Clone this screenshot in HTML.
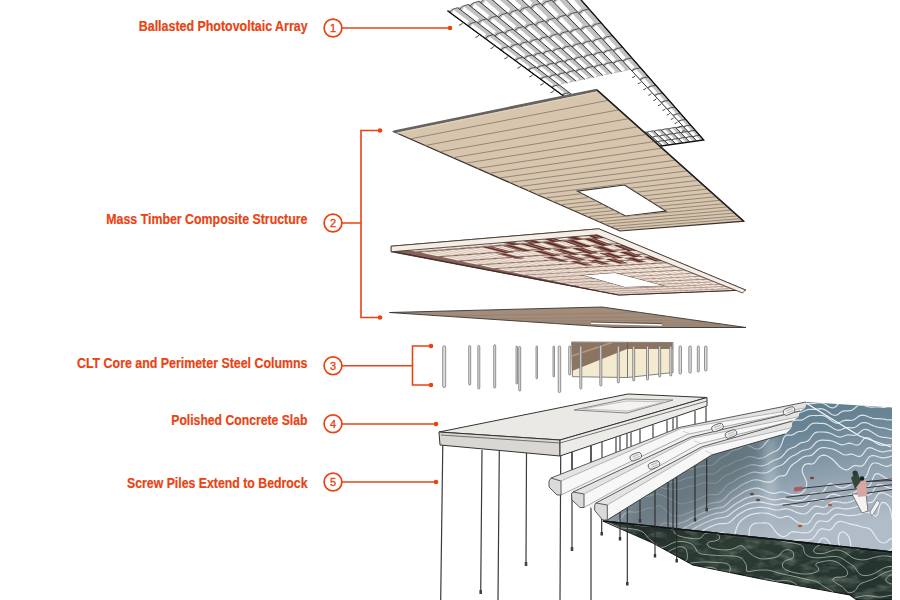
<!DOCTYPE html>
<html><head><meta charset="utf-8"><style>
html,body{margin:0;padding:0;background:#fff;width:900px;height:600px;overflow:hidden}
svg{display:block}
.lb{font-family:"Liberation Sans",sans-serif;font-weight:bold;font-size:14px;fill:#ea4312;stroke:#ea4312;stroke-width:0.2px}
.nb{font-family:"Liberation Sans",sans-serif;font-size:11px;fill:#ea4312;stroke:#ea4312;stroke-width:0.35px}
</style></head><body>
<svg width="900" height="600" viewBox="0 0 900 600">
<polygon points="447.5,10.8 560.3,-23.8 703.8,140.0 636.4,149.5" fill="#c2c2c2"/>
<polygon points="559.0,84.8 630.9,69.8 683.0,126.2 625.2,135.2" fill="#fff"/>
<g fill="#fff"><polygon points="451.9,13.5 453.8,9.9 468.9,21.2 466.9,24.5"/><polygon points="470.5,27.2 472.4,23.9 486.1,34.1 484.1,37.2"/><polygon points="487.3,39.6 489.4,36.6 501.9,45.9 499.8,48.7"/><polygon points="502.8,50.9 504.9,48.2 516.4,56.8 514.2,59.3"/><polygon points="517.0,61.4 519.2,58.8 529.7,66.7 527.5,69.1"/><polygon points="530.0,71.0 532.3,68.6 542.0,75.9 539.7,78.1"/><polygon points="542.1,79.8 544.3,77.7 553.4,84.4 551.1,86.5"/><polygon points="553.3,88.1 555.5,86.1 563.9,92.3 561.6,94.2"/><polygon points="563.7,95.7 566.0,93.8 573.8,99.7 571.5,101.5"/><polygon points="573.3,102.8 575.6,101.1 582.9,106.5 580.6,108.2"/><polygon points="582.4,109.5 584.7,107.9 591.5,113.0 589.2,114.5"/><polygon points="590.9,115.7 593.2,114.2 599.6,119.0 597.3,120.4"/><polygon points="598.8,121.6 601.1,120.1 607.1,124.6 604.8,126.0"/><polygon points="606.3,127.1 608.6,125.7 614.2,129.9 612.0,131.2"/><polygon points="613.3,132.3 615.6,131.0 620.9,135.0 618.7,136.2"/><polygon points="620.0,137.1 622.2,135.9 627.2,139.7 625.0,140.9"/><polygon points="626.2,141.8 628.5,140.6 633.2,144.2 631.0,145.3"/><polygon points="632.2,146.1 634.4,145.0 638.9,148.4 636.7,149.5"/><polygon points="462.1,10.5 464.1,6.8 478.9,18.3 476.8,21.7"/><polygon points="480.4,24.4 482.5,21.0 495.9,31.5 493.7,34.6"/><polygon points="496.9,37.0 499.1,34.0 511.4,43.5 509.2,46.4"/><polygon points="512.1,48.6 514.4,45.8 525.6,54.5 523.3,57.1"/><polygon points="526.0,59.2 528.3,56.6 538.7,64.7 536.3,67.1"/><polygon points="538.8,69.0 541.2,66.6 550.7,74.0 548.3,76.2"/><polygon points="550.6,78.0 553.0,75.8 561.8,82.6 559.5,84.7"/><polygon points="626.8,136.1 629.1,134.9 634.0,138.7 631.7,139.8"/><polygon points="632.9,140.8 635.2,139.6 639.8,143.2 637.6,144.3"/><polygon points="638.7,145.2 641.0,144.1 645.4,147.5 643.1,148.6"/><polygon points="472.5,7.3 474.7,3.5 489.2,15.3 487.0,18.8"/><polygon points="490.4,21.5 492.7,18.1 505.9,28.7 503.6,31.9"/><polygon points="506.7,34.4 509.1,31.3 521.1,41.0 518.7,43.9"/><polygon points="521.6,46.2 524.0,43.3 535.0,52.2 532.6,54.9"/><polygon points="535.2,57.0 537.6,54.4 547.8,62.5 545.3,65.0"/><polygon points="547.8,66.9 550.2,64.5 559.6,72.0 557.1,74.3"/><polygon points="559.3,76.1 561.8,73.9 570.4,80.8 568.0,82.9"/><polygon points="633.7,135.0 636.1,133.8 640.8,137.6 638.5,138.8"/><polygon points="639.7,139.8 642.0,138.6 646.5,142.2 644.2,143.4"/><polygon points="645.3,144.2 647.6,143.1 651.9,146.6 649.6,147.6"/><polygon points="483.1,4.1 485.4,0.2 499.7,12.2 497.3,15.8"/><polygon points="500.7,18.6 503.1,15.1 516.1,26.0 513.6,29.2"/><polygon points="516.7,31.7 519.1,28.6 530.9,38.5 528.4,41.4"/><polygon points="531.2,43.8 533.8,40.8 544.6,49.9 542.0,52.6"/><polygon points="544.6,54.7 547.1,52.1 557.0,60.4 554.5,62.9"/><polygon points="556.8,64.9 559.4,62.4 568.5,70.1 566.0,72.4"/><polygon points="568.2,74.2 570.7,71.9 579.2,79.0 576.6,81.1"/><polygon points="640.7,134.0 643.1,132.7 647.8,136.6 645.4,137.8"/><polygon points="646.5,138.7 648.9,137.6 653.3,141.2 650.9,142.4"/><polygon points="652.0,143.3 654.3,142.1 658.5,145.6 656.2,146.7"/><polygon points="494.0,0.8 496.4,-3.1 510.4,9.1 507.9,12.8"/><polygon points="511.2,15.6 513.7,12.0 526.4,23.1 523.8,26.4"/><polygon points="526.8,29.0 529.4,25.8 541.0,35.9 538.3,38.9"/><polygon points="541.1,41.3 543.7,38.3 554.3,47.5 551.6,50.3"/><polygon points="554.1,52.5 556.8,49.7 566.5,58.2 563.8,60.8"/><polygon points="566.1,62.7 568.8,60.2 577.7,68.0 575.0,70.4"/><polygon points="577.1,72.2 579.8,69.9 588.0,77.1 585.4,79.3"/><polygon points="647.8,132.9 650.2,131.6 654.8,135.6 652.3,136.8"/><polygon points="653.4,137.7 655.9,136.5 660.1,140.2 657.7,141.4"/><polygon points="658.7,142.3 661.2,141.2 665.2,144.7 662.8,145.8"/><polygon points="505.0,-2.5 507.7,-6.6 521.3,6.0 518.7,9.7"/><polygon points="521.9,12.6 524.6,8.9 537.0,20.3 534.2,23.6"/><polygon points="537.2,26.3 539.9,23.0 551.2,33.3 548.4,36.3"/><polygon points="551.1,38.7 553.9,35.7 564.2,45.1 561.4,47.9"/><polygon points="563.8,50.1 566.6,47.4 576.0,56.0 573.2,58.6"/><polygon points="575.5,60.6 578.3,58.1 587.0,66.0 584.2,68.4"/><polygon points="586.3,70.3 589.1,67.9 597.1,75.2 594.3,77.4"/><polygon points="654.9,131.8 657.5,130.5 661.8,134.5 659.3,135.7"/><polygon points="660.4,136.7 662.9,135.5 667.0,139.2 664.5,140.4"/><polygon points="665.5,141.3 668.0,140.2 671.9,143.7 669.5,144.8"/><polygon points="516.3,-6.0 519.1,-10.1 532.5,2.7 529.6,6.5"/><polygon points="532.8,9.5 535.7,5.8 547.7,17.3 544.8,20.8"/><polygon points="547.7,23.5 550.6,20.1 561.6,30.6 558.7,33.7"/><polygon points="561.3,36.2 564.2,33.1 574.2,42.7 571.3,45.5"/><polygon points="573.7,47.8 576.6,45.0 585.8,53.7 582.9,56.4"/><polygon points="585.1,58.4 588.0,55.8 596.4,63.9 593.5,66.3"/><polygon points="595.5,68.2 598.4,65.9 606.2,73.3 603.3,75.5"/><polygon points="662.1,130.7 664.8,129.4 669.0,133.4 666.4,134.7"/><polygon points="667.4,135.6 670.0,134.4 674.0,138.2 671.5,139.4"/><polygon points="672.4,140.3 675.0,139.1 678.8,142.8 676.3,143.9"/><polygon points="527.9,-9.5 530.9,-13.7 543.9,-0.6 540.9,3.3"/><polygon points="543.9,6.3 547.0,2.5 558.7,14.3 555.7,17.8"/><polygon points="558.5,20.6 561.5,17.1 572.2,27.9 569.1,31.0"/><polygon points="571.7,33.5 574.7,30.4 584.5,40.2 581.4,43.1"/><polygon points="583.7,45.4 586.8,42.5 595.7,51.4 592.6,54.1"/><polygon points="594.8,56.2 597.8,53.6 606.0,61.8 603.0,64.3"/><polygon points="604.9,66.2 608.0,63.8 615.5,71.3 612.5,73.6"/><polygon points="669.5,129.5 672.2,128.2 676.2,132.3 673.6,133.6"/><polygon points="674.6,134.6 677.2,133.3 681.1,137.2 678.5,138.4"/><polygon points="679.4,139.3 682.0,138.1 685.7,141.8 683.1,142.9"/><polygon points="539.7,-13.0 542.9,-17.3 555.5,-4.0 552.3,-0.0"/><polygon points="555.3,3.1 558.5,-0.8 569.9,11.3 566.7,14.9"/><polygon points="569.4,17.6 572.7,14.1 583.0,25.1 579.8,28.3"/><polygon points="582.3,30.9 585.5,27.7 594.9,37.6 591.7,40.6"/><polygon points="594.0,42.9 597.2,40.0 605.8,49.1 602.6,51.8"/><polygon points="604.7,54.0 607.9,51.3 615.8,59.6 612.6,62.2"/><polygon points="614.5,64.1 617.7,61.6 625.0,69.3 621.8,71.7"/><polygon points="676.9,128.4 679.6,127.1 683.6,131.2 680.9,132.5"/><polygon points="681.8,133.5 684.5,132.2 688.3,136.1 685.6,137.3"/><polygon points="686.5,138.3 689.2,137.1 692.7,140.8 690.0,141.9"/><polygon points="551.7,-16.7 555.1,-21.1 567.4,-7.4 564.0,-3.4"/><polygon points="566.9,-0.2 570.3,-4.2 581.4,8.2 578.0,11.8"/><polygon points="580.6,14.7 584.0,11.1 594.0,22.2 590.7,25.5"/><polygon points="593.0,28.1 596.4,24.9 605.5,35.0 602.2,38.1"/><polygon points="604.4,40.4 607.7,37.5 616.1,46.7 612.7,49.5"/><polygon points="614.7,51.7 618.1,48.9 625.7,57.5 622.4,60.0"/><polygon points="624.3,62.0 627.5,59.5 634.6,67.3 631.3,69.7"/><polygon points="633.0,71.5 636.3,69.2 642.8,76.4 639.6,78.6"/><polygon points="641.1,80.3 644.3,78.2 650.4,84.9 647.2,86.9"/><polygon points="648.7,88.5 651.8,86.5 657.4,92.7 654.3,94.6"/><polygon points="655.7,96.1 658.8,94.2 664.0,100.0 660.9,101.8"/><polygon points="662.2,103.2 665.2,101.4 670.1,106.8 667.1,108.5"/><polygon points="668.3,109.8 671.3,108.1 675.8,113.2 672.9,114.8"/><polygon points="674.0,116.0 676.9,114.4 681.2,119.2 678.3,120.6"/><polygon points="679.4,121.8 682.2,120.3 686.3,124.8 683.4,126.2"/><polygon points="684.4,127.2 687.2,125.9 691.0,130.1 688.2,131.4"/><polygon points="689.1,132.4 691.9,131.1 695.5,135.1 692.7,136.3"/><polygon points="693.6,137.3 696.4,136.0 699.7,139.8 697.0,140.9"/></g>
<path d="M449.5 12.3L452.1 9.4L457.7 7.7M468.2 26.0L470.9 23.4L476.3 21.8M485.3 38.5L487.9 36.2L493.3 34.7M500.8 50.0L503.5 47.8L508.7 46.5M515.1 60.5L517.8 58.5L522.9 57.3M528.3 70.1L531.0 68.3L535.9 67.2M540.5 79.1L543.2 77.4L547.9 76.3M551.8 87.4L554.4 85.8L559.0 84.8M562.2 95.0L564.9 93.6L569.4 92.7M572.0 102.2L574.6 100.8L579.0 100.0M581.1 108.9L583.7 107.6L588.0 106.8M589.7 115.2L592.2 114.0L596.4 113.2M597.7 121.1L600.2 119.9L604.3 119.2M605.2 126.6L607.7 125.5L611.7 124.9M612.3 131.8L614.8 130.8L618.6 130.2M619.0 136.7L621.4 135.8L625.2 135.2M625.3 141.4L627.7 140.5L631.4 139.9M631.3 145.7L633.6 144.9L637.3 144.4M459.7 9.1L462.4 6.2L468.2 4.5M478.1 23.2L480.9 20.5L486.5 18.9M494.9 35.9L497.7 33.5L503.1 32.1M510.2 47.6L513.0 45.4L518.2 44.0M524.2 58.3L527.0 56.3L532.1 55.0M537.1 68.1L539.9 66.2L544.9 65.1M549.1 77.2L551.8 75.5L556.6 74.4M625.8 135.7L628.3 134.7L632.1 134.1M632.0 140.4L634.4 139.4L638.2 138.9M637.8 144.8L640.2 143.9L643.9 143.4M470.1 6.0L473.0 3.0L478.9 1.2M488.2 20.3L491.1 17.6L496.8 15.9M504.7 33.3L507.6 30.8L513.1 29.3M519.7 45.2L522.6 42.9L527.9 41.6M533.4 56.1L536.3 54.0L541.5 52.7M546.1 66.1L549.0 64.2L554.0 63.0M557.8 75.3L560.6 73.5L565.5 72.5M632.7 134.6L635.3 133.6L639.1 133.0M638.7 139.3L641.2 138.4L645.0 137.9M644.4 143.8L646.9 143.0L650.6 142.4M480.7 2.7L483.7 -0.3L489.8 -2.2M498.5 17.3L501.5 14.6L507.4 12.9M514.6 30.6L517.7 28.1L523.3 26.6M529.4 42.7L532.4 40.4L537.8 39.0M542.8 53.8L545.8 51.7L551.1 50.4M555.2 64.0L558.2 62.0L563.3 60.9M566.6 73.4L569.6 71.6L574.5 70.5M639.7 133.5L642.3 132.5L646.2 131.9M645.6 138.3L648.1 137.4L651.9 136.8M651.1 142.9L653.6 142.0L657.3 141.4M491.6 -0.6L494.7 -3.7L500.9 -5.6M509.0 14.3L512.2 11.5L518.1 9.8M524.8 27.9L528.0 25.3L533.7 23.8M539.2 40.2L542.3 37.9L547.9 36.5M552.4 51.5L555.5 49.4L560.9 48.1M564.5 61.9L567.5 59.9L572.8 58.7M575.6 71.4L578.6 69.6L583.7 68.5M646.8 132.4L649.5 131.4L653.4 130.8M652.5 137.3L655.1 136.3L659.0 135.8M657.9 141.9L660.4 141.0L664.2 140.5M502.7 -4.0L506.0 -7.1L512.3 -9.1M519.7 11.3L523.0 8.4L529.1 6.7M535.2 25.1L538.5 22.5L544.3 20.9M549.2 37.7L552.5 35.3L558.2 33.8M562.1 49.2L565.3 47.0L570.8 45.7M573.9 59.7L577.1 57.7L582.4 56.5M584.8 69.4L587.9 67.6L593.0 66.4M654.0 131.3L656.7 130.3L660.7 129.7M659.5 136.2L662.1 135.3L666.0 134.7M664.7 140.9L667.3 140.0L671.1 139.4M514.0 -7.4L517.4 -10.7L523.9 -12.6M530.7 8.2L534.1 5.2L540.3 3.5M545.8 22.3L549.2 19.6L555.1 18.0M559.5 35.1L562.8 32.7L568.6 31.2M572.0 46.8L575.3 44.6L580.9 43.2M583.5 57.5L586.8 55.5L592.1 54.2M594.0 67.4L597.3 65.5L602.5 64.4M661.2 130.2L664.0 129.2L668.0 128.6M666.6 135.2L669.3 134.2L673.2 133.6M671.6 139.9L674.3 139.0L678.1 138.4M525.6 -10.9L529.2 -14.3L535.7 -16.3M541.8 5.0L545.4 2.0L551.7 0.2M556.5 19.4L560.1 16.6L566.2 15.0M569.9 32.4L573.4 30.0L579.3 28.5M582.1 44.4L585.5 42.1L591.2 40.7M593.2 55.3L596.6 53.2L602.1 51.9M603.5 65.3L606.8 63.4L612.1 62.3M668.6 129.1L671.4 128.0L675.5 127.4M673.7 134.1L676.5 133.1L680.5 132.5M678.6 138.9L681.3 138.0L685.2 137.4M537.4 -14.5L541.2 -17.9L547.9 -20.0M553.2 1.7L557.0 -1.3L563.4 -3.2M567.5 16.4L571.2 13.6L577.4 12.0M580.5 29.7L584.1 27.2L590.1 25.7M592.3 41.9L595.9 39.6L601.7 38.2M603.1 53.0L606.6 50.9L612.2 49.6M613.1 63.2L616.5 61.3L621.9 60.1M676.0 127.9L678.9 126.9L683.0 126.2M681.0 133.0L683.8 132.0L687.8 131.4M685.7 137.9L688.4 136.9L692.4 136.4M549.5 -18.2L553.4 -21.7L560.3 -23.8M564.9 -1.6L568.8 -4.7L575.3 -6.6M578.7 13.4L582.6 10.6L588.9 8.9M591.3 27.0L595.1 24.4L601.2 22.9M602.8 39.4L606.4 37.0L612.3 35.6M613.2 50.7L616.8 48.6L622.5 47.3M622.8 61.1L626.4 59.1L631.9 57.9M631.7 70.7L635.2 68.9L640.5 67.8M639.9 79.6L643.3 77.9L648.4 76.8M647.5 87.8L650.8 86.2L655.8 85.3M654.6 95.4L657.8 94.0L662.6 93.1M661.1 102.5L664.3 101.2L669.0 100.3M667.3 109.2L670.4 107.9L675.0 107.1M673.0 115.4L676.1 114.2L680.5 113.5M678.4 121.3L681.4 120.1L685.8 119.5M683.5 126.8L686.5 125.7L690.7 125.1M688.3 131.9L691.2 130.9L695.3 130.3M692.8 136.8L695.6 135.9L699.6 135.3" stroke="#3a3a3a" stroke-width="0.8" fill="none"/>
<path d="M447.5 10.8L636.4 149.5M457.7 7.7L642.8 148.6M468.2 4.5L567.5 83.0M632.1 134.1L649.3 147.7M478.9 1.2L576.2 81.2M639.1 133.0L655.8 146.8M489.8 -2.2L584.9 79.4M646.2 131.9L662.5 145.8M500.9 -5.6L593.8 77.5M653.4 130.8L669.1 144.9M512.3 -9.1L602.9 75.6M660.7 129.7L675.9 143.9M523.9 -12.6L612.0 73.7M668.0 128.6L682.8 143.0M535.7 -16.3L621.4 71.8M675.5 127.4L689.7 142.0M547.9 -20.0L696.7 141.0M560.3 -23.8L703.8 140.0" stroke="#2a2a2a" stroke-width="0.9" fill="none"/>
<path d="M462.5 22.9Q461.5 25.1 459.0 25.3M478.9 35.0Q477.9 37.2 475.4 37.4M494.0 46.1Q493.0 48.3 490.5 48.5M507.9 56.3Q506.9 58.5 504.4 58.7M520.8 65.8Q519.8 68.0 517.3 68.2M532.7 74.5Q531.7 76.7 529.2 76.9M543.8 82.6Q542.8 84.8 540.3 85.0M554.1 90.2Q553.1 92.4 550.6 92.6M563.7 97.3Q562.7 99.5 560.2 99.7M572.8 103.9Q571.8 106.1 569.3 106.3M581.2 110.2Q580.2 112.4 577.7 112.6M589.2 116.0Q588.2 118.2 585.7 118.4M635.1 75.7Q634.1 77.4 632.1 77.6M640.8 81.9Q639.8 83.6 637.8 83.8M646.3 87.8Q645.3 89.5 643.3 89.7M651.4 93.4Q650.4 95.1 648.4 95.3M656.3 98.7Q655.3 100.4 653.3 100.6M661.0 103.8Q660.0 105.5 658.0 105.7M665.5 108.6Q664.5 110.3 662.5 110.5M669.7 113.2Q668.7 114.9 666.7 115.1M673.8 117.5Q672.8 119.2 670.8 119.4M677.6 121.7Q676.6 123.4 674.6 123.6M681.3 125.7Q680.3 127.4 678.3 127.6M684.9 129.6Q683.9 131.3 681.9 131.5" fill="none" stroke="#333" stroke-width="0.9"/>
<path d="M447.5 10.8L636.4 149.5L703.75 140L489.0 -105.2" stroke="#111" stroke-width="1.3" fill="none"/>
<path d="M393.8,131.8 597.0,90.0 743.8,221.2 620.0,231.0Z M577.5,191.2 624.5,185.0 666.0,211.0 625.5,216.0Z" fill="#d8c5ad" fill-rule="evenodd" stroke="#3a3530" stroke-width="1.2"/>
<g><clipPath id="rc"><path d="M393.8,131.8 597.0,90.0 743.8,221.2 620.0,231.0Z M577.5,191.2 624.5,185.0 666.0,211.0 625.5,216.0Z" clip-rule="evenodd"/></clipPath><path d="M410.0 138.9L608.5 100.3M425.2 145.5L619.1 109.8M439.4 151.8L629.0 118.6M452.8 157.7L638.1 126.8M465.5 163.2L646.6 134.4M477.4 168.4L654.6 141.5M488.6 173.4L662.0 148.1M499.2 178.0L669.0 154.4M509.3 182.4L675.5 160.2M518.9 186.6L681.6 165.7M528.0 190.6L687.4 170.9M536.6 194.4L692.9 175.8M544.9 198.0L698.1 180.4M552.7 201.5L703.0 184.8M560.2 204.8L707.7 189.0M567.4 207.9L712.1 192.9M574.2 210.9L716.3 196.7M580.8 213.8L720.3 200.3M587.1 216.6L724.1 203.7M593.1 219.2L727.8 206.9M598.9 221.8L731.2 210.1M604.5 224.2L734.6 213.0M609.9 226.6L737.8 215.9M615.0 228.8L740.8 218.6" stroke="#958676" stroke-width="1.0" clip-path="url(#rc)"/></g>
<path d="M393.75 131.75L597 90" stroke="#666460" stroke-width="2.8"/>
<path d="M396.75 133.35L597 92" stroke="#e6d8c6" stroke-width="0.8"/>
<path d="M597 90L743.75 221.25" stroke="#222" stroke-width="1.6"/>
<path d="M391.2,246.2 598.8,228.8 745.5,290.0 618.8,295.0 391.2,251.8Z M581.0,275.0 615.0,272.5 666.0,286.0 625.0,287.5Z" fill="#85625a" fill-rule="evenodd" stroke="#3a2a25" stroke-width="0.8"/>
<clipPath id="gc"><path d="M391.2,246.2 598.8,228.8 745.5,290.0 618.8,295.0 391.2,251.8Z M581.0,275.0 615.0,272.5 666.0,286.0 625.0,287.5Z" clip-rule="evenodd"/></clipPath><g clip-path="url(#gc)"><g fill="#f4ebe0"><polygon points="396.3,247.3 602.2,230.2 615.5,235.7 415.6,251.5"/><polygon points="420.2,252.5 618.6,237.0 630.4,242.0 437.7,256.2"/><polygon points="441.9,257.1 633.2,243.1 643.9,247.6 458.0,260.5"/><polygon points="461.8,261.4 646.5,248.7 656.1,252.7 476.5,264.5"/><polygon points="480.0,265.3 658.4,253.7 667.3,257.3 493.6,268.2"/><polygon points="496.8,268.9 669.4,258.2 677.4,261.6 509.3,271.5"/><polygon points="512.3,272.2 679.4,262.4 686.8,265.5 523.9,274.7"/><polygon points="526.7,275.3 688.5,266.2 695.4,269.1 537.4,277.6"/><polygon points="540.0,278.1 697.0,269.8 703.3,272.4 550.1,280.3"/><polygon points="552.5,280.8 704.8,273.0 710.7,275.5 561.8,282.8"/><polygon points="564.1,283.3 712.1,276.0 717.5,278.3 572.8,285.2"/><polygon points="575.0,285.6 718.8,278.9 723.9,281.0 583.2,287.4"/><polygon points="585.2,287.8 725.1,281.5 729.8,283.4 592.9,289.5"/><polygon points="594.7,289.9 730.9,283.9 735.4,285.8 602.0,291.4"/><polygon points="603.8,291.8 736.4,286.2 740.6,288.0 610.6,293.3"/><polygon points="612.3,293.6 741.6,288.4 745.5,290.0 618.7,295.0"/></g><g fill="#62302a"><polygon points="495.7,253.7 504.8,253.1 525.1,258.3 516.3,258.9"/><polygon points="482.2,247.2 491.8,246.5 514.0,252.4 504.8,253.1"/><polygon points="501.5,245.7 511.3,245.0 532.7,251.0 523.3,251.7"/><polygon points="542.9,257.1 551.9,256.5 569.2,261.4 560.5,261.9"/><polygon points="487.3,238.2 497.6,237.3 521.3,244.2 511.3,245.0"/><polygon points="532.7,251.0 542.3,250.3 561.1,255.8 551.9,256.5"/><polygon points="569.2,261.4 578.1,260.8 593.4,265.3 584.9,265.8"/><polygon points="521.3,244.2 531.4,243.4 552.0,249.6 542.3,250.3"/><polygon points="561.1,255.8 570.4,255.2 587.0,260.2 578.1,260.8"/><polygon points="508.2,236.4 518.9,235.5 541.6,242.6 531.4,243.4"/><polygon points="552.0,249.6 561.8,248.9 579.8,254.6 570.4,255.2"/><polygon points="587.0,260.2 596.1,259.7 610.7,264.3 602.0,264.8"/><polygon points="541.6,242.6 552.0,241.8 571.7,248.2 561.8,248.9"/><polygon points="579.8,254.6 589.4,253.9 605.2,259.1 596.1,259.7"/><polygon points="529.8,234.6 540.8,233.6 562.6,241.0 552.0,241.8"/><polygon points="571.7,248.2 581.8,247.5 599.0,253.3 589.4,253.9"/><polygon points="605.2,259.1 614.5,258.5 628.5,263.2 619.5,263.7"/><polygon points="562.6,241.0 573.3,240.1 592.0,246.7 581.8,247.5"/><polygon points="599.0,253.3 608.8,252.6 623.9,257.9 614.5,258.5"/><polygon points="552.1,232.7 563.5,231.7 584.1,239.3 573.3,240.1"/><polygon points="592.0,246.7 602.4,246.0 618.7,251.9 608.8,252.6"/><polygon points="623.9,257.9 633.4,257.3 646.6,262.1 637.5,262.6"/><polygon points="584.1,239.3 595.1,238.4 612.9,245.2 602.4,246.0"/><polygon points="618.7,251.9 628.8,251.2 643.0,256.7 633.4,257.3"/><polygon points="575.0,230.8 586.8,229.8 606.3,237.5 595.1,238.4"/><polygon points="612.9,245.2 623.6,244.4 639.0,250.5 628.8,251.2"/><polygon points="643.0,256.7 652.8,256.0 665.2,261.0 655.8,261.5"/></g><path d="M398.2 245.7L623.3 294.8M405.1 245.1L627.8 294.6M412.2 244.5L632.4 294.5M419.3 243.9L637.0 294.3M426.6 243.3L641.6 294.1M433.8 242.7L646.2 293.9M441.2 242.0L650.9 293.7M448.7 241.4L655.6 293.5M456.2 240.8L660.3 293.4M463.8 240.1L665.1 293.2M471.6 239.5L669.9 293.0M479.4 238.8L674.7 292.8M487.3 238.2L679.6 292.6M495.2 237.5L684.5 292.4M503.3 236.8L689.4 292.2M511.5 236.1L694.3 292.0M519.7 235.4L699.3 291.8M528.1 234.7L704.3 291.6M536.6 234.0L709.3 291.4M545.1 233.3L714.4 291.2M553.8 232.5L719.5 291.0M562.6 231.8L724.6 290.8M571.5 231.1L729.8 290.6M580.4 230.3L735.0 290.4M589.5 229.5L740.2 290.2" stroke="#c4aa9c" stroke-width="0.6"/></g>
<path d="M391.25 251.25L618.75 295L745.5 290" fill="none" stroke="#4a2e28" stroke-width="1.2"/>
<path d="M391.2,246.2 598.8,228.8 745.5,290.0 742.5,293.0 596.8,234.8 391.2,251.8Z" fill="#f5eee6" stroke="#3a302a" stroke-width="0.8"/>
<path d="M389.5,312.5 602.0,307.0 746.0,327.5 615.0,327.5Z" fill="#a38c7a" stroke="#333" stroke-width="0.9"/>
<path d="M444.1 316.1L641.3 312.6M487.4 319.0L670.3 316.7M522.5 321.3L692.5 319.9M551.6 323.3L710.0 322.4M576.1 324.9L724.3 324.4M597.0 326.3L736.1 326.1" stroke="#857263" stroke-width="0.6" opacity="0.7"/>
<polygon points="571.7,342 673,342.5 673,372.5 627.5,377.5 572.5,376.7" fill="#f3ead0" stroke="#666" stroke-width="0.8"/>
<polygon points="571.7,342.3 672.5,342.8 672.5,349 627,349 572,371" fill="#8c7462"/>
<path d="M627.5 342.5V377.5" stroke="#555" stroke-width="0.8"/>
<path d="M572 356L612 342.5" stroke="#b49a80" stroke-width="1.4"/>
<rect x="442.7" y="345.8" width="3" height="41.7" rx="1.5" fill="#dcdcdc" stroke="#6a6a6a" stroke-width="0.7"/>
<rect x="468.7" y="345.5" width="2" height="39.5" rx="1.0" fill="#dcdcdc" stroke="#6a6a6a" stroke-width="0.7"/>
<rect x="477.8" y="345.5" width="2" height="43.5" rx="1.0" fill="#dcdcdc" stroke="#6a6a6a" stroke-width="0.7"/>
<rect x="493.7" y="344.7" width="2" height="43.3" rx="1.0" fill="#dcdcdc" stroke="#6a6a6a" stroke-width="0.7"/>
<rect x="516.0" y="346" width="1.5" height="38.0" rx="0.8" fill="#dcdcdc" stroke="#6a6a6a" stroke-width="0.7"/>
<rect x="518.7" y="346.5" width="2" height="44.5" rx="1.0" fill="#dcdcdc" stroke="#6a6a6a" stroke-width="0.7"/>
<rect x="536.0" y="346" width="1.5" height="32.8" rx="0.8" fill="#dcdcdc" stroke="#6a6a6a" stroke-width="0.7"/>
<rect x="553.0" y="346" width="1.5" height="31.0" rx="0.8" fill="#dcdcdc" stroke="#6a6a6a" stroke-width="0.7"/>
<rect x="558.2" y="346" width="2.5" height="46.5" rx="1.2" fill="#dcdcdc" stroke="#6a6a6a" stroke-width="0.7"/>
<rect x="568.7" y="346" width="2" height="29.0" rx="1.0" fill="#dcdcdc" stroke="#6a6a6a" stroke-width="0.7"/>
<rect x="579.8" y="346" width="2" height="43.0" rx="1.0" fill="#dcdcdc" stroke="#6a6a6a" stroke-width="0.7"/>
<rect x="599.8" y="345" width="2" height="41.0" rx="1.0" fill="#dcdcdc" stroke="#6a6a6a" stroke-width="0.7"/>
<rect x="617.3" y="346" width="2" height="37.0" rx="1.0" fill="#dcdcdc" stroke="#6a6a6a" stroke-width="0.7"/>
<rect x="632.7" y="346" width="2" height="35.0" rx="1.0" fill="#dcdcdc" stroke="#6a6a6a" stroke-width="0.7"/>
<rect x="646.5" y="346" width="2" height="34.0" rx="1.0" fill="#dcdcdc" stroke="#6a6a6a" stroke-width="0.7"/>
<rect x="658.7" y="346" width="2" height="31.0" rx="1.0" fill="#dcdcdc" stroke="#6a6a6a" stroke-width="0.7"/>
<rect x="669.8" y="346" width="2" height="30.0" rx="1.0" fill="#dcdcdc" stroke="#6a6a6a" stroke-width="0.7"/>
<rect x="679.0" y="346" width="2.5" height="28.0" rx="1.2" fill="#dcdcdc" stroke="#6a6a6a" stroke-width="0.7"/>
<rect x="688.8" y="346" width="2.5" height="27.0" rx="1.2" fill="#dcdcdc" stroke="#6a6a6a" stroke-width="0.7"/>
<rect x="697.3" y="346" width="2" height="26.0" rx="1.0" fill="#dcdcdc" stroke="#6a6a6a" stroke-width="0.7"/>
<rect x="704.5" y="346" width="2.5" height="25.0" rx="1.2" fill="#dcdcdc" stroke="#6a6a6a" stroke-width="0.7"/>
<path d="M591 323.3L662 325" stroke="#fff" stroke-width="1.6"/><path d="M591 322L662 323.6" stroke="#333" stroke-width="0.6"/>
<defs>
<linearGradient id="wg" x1="0" y1="0" x2="0.35" y2="1">
<stop offset="0" stop-color="#4d7283"/><stop offset="0.4" stop-color="#6b8696"/><stop offset="0.75" stop-color="#98a8b6"/><stop offset="1" stop-color="#b0bcc7"/></linearGradient>
<linearGradient id="dg" x1="0" y1="0" x2="1" y2="0.3">
<stop offset="0" stop-color="#1e2927"/><stop offset="0.5" stop-color="#2c3c34"/><stop offset="1" stop-color="#263430"/></linearGradient>
<linearGradient id="rg" x1="0" y1="0" x2="1" y2="0">
<stop offset="0" stop-color="#7d868c"/><stop offset="1" stop-color="#8d9aa3" stop-opacity="0"/></linearGradient>
</defs>
<polygon points="806.0,402.0 892.0,407.5 892.0,552.0 603.0,521.0 711.7,455.0 785.0,434.0 791.0,428.0 792.5,421.0 798.0,417.0 800.0,411.0 805.0,408.0" fill="url(#wg)"/>
<polygon points="603.0,521.0 892.0,552.0 892.0,600.0 857.0,600.0 850.0,595.0 767.0,580.0 693.0,565.0 653.0,543.0" fill="url(#dg)"/>
<path d="M603 521L892 552" stroke="#111" stroke-width="1.5"/>
<path d="M892.0,600.0 857.0,600.0 850.0,595.0 767.0,580.0 693.0,565.0 653.0,543.0 603.0,521.0" fill="none" stroke="#111" stroke-width="1.2"/>
<clipPath id="wc"><polygon points="806.0,402.0 892.0,407.5 892.0,552.0 603.0,521.0 711.7,455.0 785.0,434.0 791.0,428.0 792.5,421.0 798.0,417.0 800.0,411.0 805.0,408.0"/></clipPath><path d="M596.5 395.0L598.0 395.7L599.0 396.1L601.0 396.7L603.0 396.9L605.0 396.7L606.7 396.0L608.0 395.3M595.0 399.5L597.0 400.0L598.0 400.3L600.0 400.9L601.0 401.2L603.0 401.5L605.0 401.4L607.0 401.0L608.0 400.7L609.3 400.0L611.0 399.0L612.0 398.4L613.0 397.9L615.0 397.4L617.0 397.4L619.0 397.8L620.0 398.0L622.0 398.2L623.8 398.0L625.0 397.5L626.0 396.9L627.2 396.0L628.4 395.0M595.0 403.9L596.2 404.0L598.0 404.3L600.0 404.8L601.0 405.1L603.0 405.4L605.0 405.6L607.0 405.4L608.5 405.0L610.0 404.4L611.0 403.9L612.8 403.0L614.0 402.5L615.9 402.0L617.0 401.9L618.2 402.0L620.0 402.3L622.0 402.6L624.0 402.7L626.0 402.2L627.0 401.7L628.2 401.0L629.6 400.0L631.0 399.1L632.0 398.7L634.0 398.1L635.5 398.0L637.0 397.9L639.0 397.8L641.0 397.6L643.0 397.3L645.0 397.0L646.0 396.9L648.0 396.8L650.0 396.8L652.0 396.9L653.0 397.1L655.0 397.4L657.0 397.6L659.0 397.6L661.0 397.1L662.0 396.6L663.1 396.0L664.6 395.0M595.0 408.0L597.0 408.0L598.0 408.1L600.0 408.5L602.0 409.0L603.0 409.2L605.0 409.5L607.0 409.5L609.0 409.2L610.0 409.0L612.0 408.2L613.0 407.7L614.7 407.0L616.0 406.6L618.0 406.4L620.0 406.6L621.6 407.0L623.0 407.3L625.0 407.6L627.0 407.3L628.0 406.9L629.6 406.0L631.0 405.1L632.0 404.5L633.1 404.0L635.0 403.5L637.0 403.4L639.0 403.5L641.0 403.5L643.0 403.4L645.0 403.3L647.0 403.2L649.0 403.1L651.0 403.2L653.0 403.4L655.0 403.8L656.3 404.0L658.0 404.2L660.0 404.2L661.0 403.9L663.0 403.0L664.0 402.3L665.0 401.5L666.0 400.7L667.0 400.0L668.5 399.0L670.0 398.3L671.0 397.9L673.0 397.6L675.0 397.7L676.4 398.0L678.0 398.4L679.7 399.0L681.0 399.4L683.0 400.0L684.0 400.1L686.0 400.3L688.0 400.0L689.0 399.8L691.0 399.3L692.3 399.0L694.0 398.8L696.0 398.8L698.0 398.9L700.0 398.9L702.0 398.4L703.0 397.9L704.2 397.0L705.2 396.0L706.0 395.0M595.0 412.0L596.0 411.9L598.0 411.9L599.0 412.0L601.0 412.5L603.0 413.0L604.0 413.2L606.0 413.6L608.0 413.9L610.0 413.8L612.0 413.4L613.1 413.0L615.0 412.3L616.0 411.9L618.0 411.6L620.0 411.8L621.0 412.1L623.0 412.9L624.0 413.4L625.2 414.0L627.0 414.8L628.0 415.0L629.2 415.0L631.0 414.3L632.0 413.6L633.0 412.8L634.1 412.0L636.0 411.4L638.0 411.6L639.2 412.0L641.0 412.9L642.0 413.5L643.0 414.0L644.6 415.0L646.0 415.9L647.0 416.4L648.4 417.0L650.0 417.5L652.0 417.7L654.0 417.7L656.0 417.7L658.0 417.7L660.0 417.3L661.0 416.8L662.0 416.0L663.0 414.9L664.0 413.4L664.8 412.0L665.4 411.0L666.0 410.0L667.0 408.5L668.0 407.3L669.0 406.2L670.0 405.4L671.0 404.8L673.0 404.1L674.0 404.0L675.4 404.0L677.0 404.2L679.0 404.7L680.3 405.0L682.0 405.5L684.0 405.9L685.0 406.0L687.0 406.1L688.6 406.0L690.0 405.8L692.0 405.3L694.0 405.0L695.0 404.9L696.9 405.0L698.0 405.1L700.0 405.2L702.0 405.1L703.0 404.9L704.8 404.0L706.0 403.2L707.0 402.3L708.0 401.3L709.0 400.2L710.0 399.1L711.0 398.0L712.0 397.0L713.0 396.1L714.0 395.2M595.0 416.4L596.4 416.0L598.0 415.9L599.0 416.0L601.0 416.5L602.6 417.0L604.0 417.6L605.1 418.0L607.0 418.8L608.0 419.1L610.0 419.8L611.0 420.1L613.0 420.4L615.0 420.4L617.0 420.2L619.0 420.4L620.2 421.0L621.3 422.0L622.1 423.0L623.0 424.7L623.5 426.0L624.0 427.3L624.6 429.0L625.0 430.0L626.0 431.8L626.8 433.0L627.8 434.0L629.0 434.9L630.0 435.4L631.4 436.0L633.0 436.4L635.0 436.5L637.0 436.4L638.8 436.0L640.0 435.7L642.0 435.4L644.0 435.3L646.0 435.4L648.0 435.4L650.0 435.3L652.0 435.1L653.0 434.9L655.0 434.4L656.5 434.0L658.0 433.5L659.7 433.0L661.0 432.5L662.3 432.0L664.0 431.1L665.0 430.3L666.0 429.2L666.8 428.0L667.3 427.0L668.0 425.3L668.4 424.0L669.0 422.1L669.3 421.0L669.9 419.0L670.2 418.0L671.0 416.1L671.6 415.0L672.4 414.0L673.5 413.0L675.0 412.4L677.0 412.2L679.0 412.4L681.0 412.7L682.8 413.0L684.0 413.2L686.0 413.3L688.0 413.2L689.4 413.0L691.0 412.7L693.0 412.3L694.5 412.0L696.0 411.9L698.0 411.9L699.5 412.0L701.0 412.1L702.3 412.0L704.0 411.7L705.5 411.0L707.0 410.1L708.0 409.3L709.0 408.4L710.0 407.5L711.0 406.5L712.0 405.6L713.0 404.7L714.0 404.0L715.4 403.0L717.0 402.0L718.0 401.4L719.0 400.9L720.7 400.0L722.0 399.4L723.1 399.0L725.0 398.5L727.0 398.0L728.0 397.9L730.0 397.5L732.0 397.2L733.0 397.0L735.0 396.5L737.0 396.0L738.0 395.7L740.0 395.1M595.0 422.0L596.9 421.0L598.0 420.8L599.6 421.0L601.0 421.5L602.1 422.0L603.6 423.0L604.8 424.0L605.8 425.0L606.7 426.0L607.4 427.0L608.0 428.0L608.9 430.0L609.3 431.0L609.9 433.0L610.1 434.0L610.6 436.0L611.0 437.2L611.7 439.0L612.1 440.0L613.0 441.3L614.0 442.4L615.0 443.2L616.3 444.0L618.0 444.6L620.0 445.0L622.0 444.9L624.0 444.6L626.0 444.3L628.0 444.0L629.0 443.9L631.0 443.7L633.0 443.7L635.0 443.6L637.0 443.4L639.0 443.1L640.0 442.9L642.0 442.5L644.0 442.2L646.0 442.0L647.7 442.0L649.0 442.0L651.0 441.9L653.0 441.7L655.0 441.5L657.0 441.1L658.0 440.9L660.0 440.4L661.6 440.0L663.0 439.6L664.8 439.0L666.0 438.4L667.0 437.8L668.0 436.9L669.0 435.9L670.0 434.5L670.9 433.0L671.4 432.0L672.0 430.9L672.9 429.0L673.5 428.0L674.0 427.0L675.0 425.6L676.0 424.6L677.1 424.0L679.0 423.5L681.0 423.5L683.0 423.4L685.0 423.2L686.0 423.0L688.0 422.5L689.6 422.0L691.0 421.6L692.9 421.0L694.0 420.7L696.0 420.3L698.0 420.1L700.0 420.1L702.0 420.0L703.0 419.9L705.0 419.5L706.0 419.0L707.6 418.0L708.9 417.0L709.9 416.0L711.0 415.0L712.0 414.0L713.0 413.0L714.0 412.1L715.0 411.3L716.0 410.6L717.0 409.9L718.3 409.0L720.0 408.1L721.0 407.5L722.2 407.0L724.0 406.3L725.1 406.0L727.0 405.5L729.0 405.1L730.0 404.9L732.0 404.5L734.0 404.1L735.0 403.9L737.0 403.5L739.0 403.2L740.1 403.0L742.0 402.6L744.0 402.2L745.1 402.0L747.0 401.5L748.3 401.0L750.0 400.2L751.0 399.6L752.0 398.9L753.1 398.0L754.2 397.0L755.1 396.0M595.0 452.3L595.5 451.0L595.9 449.0L595.9 447.0L595.5 445.0L595.0 443.6M595.0 462.2L596.0 461.6L597.0 460.7L598.0 459.5L599.0 458.0L599.6 457.0L600.1 456.0L601.0 454.2L601.6 453.0L602.2 452.0L603.0 450.7L604.0 449.7L605.7 449.0L607.0 449.0L608.0 449.2L610.0 449.7L611.0 450.0L613.0 450.6L614.3 451.0L616.0 451.4L618.0 451.8L620.0 452.0L622.0 451.9L624.0 451.6L626.0 451.1L627.0 450.8L629.0 450.3L630.0 450.0L632.0 449.6L634.0 449.2L636.0 449.0L637.0 448.9L639.0 448.7L641.0 448.5L643.0 448.1L644.0 448.0L646.0 447.8L648.0 447.8L650.0 447.8L652.0 447.9L654.0 447.9L656.0 447.9L658.0 447.7L660.0 447.5L662.0 447.2L663.4 447.0L665.0 446.7L667.0 446.1L668.0 445.6L669.0 445.0L670.1 444.0L671.0 443.0L672.0 441.7L673.0 440.2L673.7 439.0L674.4 438.0L675.0 437.0L676.0 435.8L677.0 434.8L678.2 434.0L680.0 433.4L682.0 433.3L684.0 433.2L685.9 433.0L687.0 432.7L689.0 432.0L690.0 431.6L691.5 431.0L693.0 430.4L694.3 430.0L696.0 429.5L698.0 429.2L700.0 429.0L701.0 429.0L703.0 428.9L705.0 428.6L706.6 428.0L708.0 427.3L709.0 426.5L710.0 425.7L711.0 424.7L712.0 423.7L713.0 422.6L714.0 421.5L715.0 420.5L716.0 419.5L717.0 418.6L718.0 417.7L719.0 416.9L720.2 416.0L721.7 415.0L723.0 414.2L724.0 413.7L725.9 413.0L727.0 412.7L729.0 412.2L730.0 411.9L732.0 411.4L733.5 411.0L735.0 410.6L737.0 410.2L738.1 410.0L740.0 409.8L742.0 409.6L744.0 409.4L746.0 409.2L747.0 409.0L749.0 408.5L750.2 408.0L752.0 407.1L753.0 406.5L754.0 405.9L755.2 405.0L756.4 404.0L757.6 403.0L758.7 402.0L759.7 401.0L760.7 400.0L761.7 399.0L762.8 398.0L763.9 397.0L765.0 396.1L766.0 395.4M780.5 395.0L782.0 395.7L783.0 396.1L785.0 396.7L786.1 397.0L788.0 397.4L790.0 397.8L791.1 398.0L793.0 398.4L795.0 398.6L797.0 398.6L799.0 398.3L800.0 397.9L802.0 397.3L803.0 397.0L805.0 396.8L807.0 396.9L808.0 397.0L810.0 397.2L812.0 397.2L813.5 397.0L815.0 396.6L817.0 396.2L819.0 396.1L821.0 396.7L822.0 397.1L823.6 398.0L825.0 398.8L826.0 399.4L827.0 400.0L829.0 400.8L830.0 401.0L831.1 401.0L833.0 400.2L834.0 399.4L835.0 398.3L836.0 397.1L836.9 396.0L837.8 395.0M595.0 470.2L596.0 470.0L597.9 469.0L599.0 468.0L599.8 467.0L600.4 466.0L601.1 465.0L602.0 463.4L602.8 462.0L603.5 461.0L604.2 460.0L605.2 459.0L606.5 458.0L608.0 457.3L609.9 457.0L611.0 457.0L612.0 457.0L614.0 457.2L616.0 457.6L618.0 457.9L619.0 458.1L621.0 458.3L623.0 458.2L624.8 458.0L626.0 457.7L628.0 457.1L629.0 456.7L631.0 456.0L632.0 455.7L634.0 455.1L635.0 454.9L637.0 454.7L639.0 454.6L641.0 454.5L643.0 454.3L645.0 454.1L647.0 454.1L649.0 454.3L651.0 454.6L652.7 455.0L654.0 455.3L656.0 455.7L657.5 456.0L659.0 456.2L661.0 456.5L663.0 456.7L665.0 456.9L666.6 457.0L667.7 457.0L669.0 456.9L671.0 456.2L672.0 455.6L673.0 454.6L674.0 453.2L674.7 452.0L675.1 451.0L676.0 449.0L676.4 448.0L677.0 446.8L678.0 445.1L679.0 444.0L680.0 443.3L681.0 442.9L683.0 442.8L684.4 443.0L686.0 443.2L688.0 443.0L689.0 442.7L690.6 442.0L692.0 441.3L693.0 440.7L694.6 440.0L696.0 439.5L698.0 439.0L699.0 438.9L701.0 438.9L703.0 439.0L705.0 438.9L707.0 438.6L708.4 438.0L709.9 437.0L711.0 436.1L712.0 435.1L713.0 434.0L714.0 433.0L714.9 432.0L715.9 431.0L716.9 430.0L717.9 429.0L718.9 428.0L719.9 427.0L720.9 426.0L721.9 425.0L723.0 424.0L724.0 423.1L725.0 422.4L726.0 421.8L727.7 421.0L729.0 420.6L731.0 420.0L732.0 419.7L734.0 419.0L735.0 418.6L736.7 418.0L738.0 417.6L740.0 417.2L742.0 417.1L744.0 417.2L746.0 417.3L748.0 417.2L749.3 417.0L751.0 416.5L752.0 416.0L753.7 415.0L755.0 414.1L756.0 413.4L757.0 412.6L758.0 411.9L759.1 411.0L760.4 410.0L761.8 409.0L763.0 408.2L764.0 407.5L765.0 406.9L766.6 406.0L768.0 405.3L769.0 404.8L770.5 404.0L772.0 403.3L773.0 403.0L775.0 402.6L777.0 402.7L778.2 403.0L780.0 403.6L781.0 404.0L783.0 404.7L784.0 405.1L786.0 405.5L788.0 405.8L790.0 405.9L792.0 405.9L793.0 406.0L795.0 406.1L797.0 406.2L798.7 406.0L800.0 405.7L802.0 405.1L803.0 404.7L805.0 404.0L806.0 403.8L808.0 403.6L810.0 403.6L812.0 403.6L814.0 403.5L816.0 403.2L817.0 403.0L819.0 402.7L821.0 402.8L822.0 403.0L824.0 403.8L825.0 404.3L826.2 405.0L827.9 406.0L829.0 406.7L830.0 407.2L832.0 407.8L834.0 407.6L835.2 407.0L836.4 406.0L837.4 405.0L838.4 404.0L839.5 403.0L840.8 402.0L842.0 401.4L843.2 401.0L845.0 400.6L847.0 400.4L848.9 400.0L850.0 399.6L851.1 399.0L852.6 398.0L854.0 397.0L855.0 396.3L856.0 395.6L857.3 395.0M899.0 398.7L898.0 398.0L896.1 397.0L895.0 396.6L893.0 396.5L891.6 396.0M595.0 479.1L597.0 479.0L598.0 478.9L599.9 478.0L601.0 477.1L602.0 476.0L602.6 475.0L603.2 474.0L604.0 472.4L604.7 471.0L605.2 470.0L606.0 468.5L607.0 467.1L608.0 466.0L609.0 465.3L610.0 464.8L612.0 464.2L614.0 464.1L616.0 464.3L618.0 464.8L619.1 465.0L621.0 465.4L623.0 465.8L625.0 465.8L627.0 465.5L628.7 465.0L630.0 464.5L631.0 464.0L633.0 463.0L634.0 462.6L635.8 462.0L637.0 461.8L639.0 461.6L641.0 461.7L643.0 461.8L645.0 461.9L647.0 462.0L648.0 462.1L650.0 462.4L651.8 463.0L653.0 463.4L654.4 464.0L656.0 464.6L657.0 465.0L659.0 465.6L660.6 466.0L662.0 466.3L664.0 466.6L666.0 466.9L667.0 467.1L669.0 467.3L671.0 467.3L673.0 467.0L674.0 466.8L675.9 466.0L677.0 465.3L678.0 464.6L679.0 463.7L680.0 462.7L681.0 461.6L682.0 460.6L683.0 459.8L685.0 459.2L687.0 459.2L689.0 459.3L691.0 459.1L692.0 458.8L693.6 458.0L695.0 457.1L696.0 456.4L697.0 455.7L698.5 455.0L700.0 454.5L702.0 454.2L704.0 454.2L706.0 454.3L708.0 454.2L709.0 453.9L710.8 453.0L712.0 452.0L712.9 451.0L713.7 450.0L714.5 449.0L715.2 448.0L716.0 446.9L717.0 445.6L718.0 444.4L719.0 443.4L720.0 442.5L721.0 441.7L722.0 440.8L723.0 439.8L724.0 438.6L725.0 437.3L726.0 436.1L726.9 435.0L728.0 434.0L729.0 433.4L730.0 432.9L732.0 432.2L733.0 432.0L735.0 431.3L736.0 430.8L737.2 430.0L738.7 429.0L740.0 428.2L741.0 427.8L743.0 427.6L745.0 427.9L746.0 428.2L748.0 429.0L749.0 429.4L751.0 430.0L752.0 430.0L753.0 429.8L754.1 429.0L755.1 428.0L756.0 426.8L757.0 425.5L758.0 424.1L758.9 423.0L759.8 422.0L760.7 421.0L761.7 420.0L762.9 419.0L764.0 418.1L765.0 417.4L766.0 416.8L767.4 416.0L769.0 415.1L770.0 414.5L771.0 413.9L772.3 413.0L774.0 412.0L775.0 411.5L776.4 411.0L778.0 410.8L780.0 410.9L781.0 411.1L783.0 411.7L784.2 412.0L786.0 412.4L788.0 412.7L790.0 412.8L792.0 412.7L794.0 412.6L796.0 412.7L798.0 412.7L800.0 412.5L801.8 412.0L803.0 411.5L804.1 411.0L806.0 410.2L807.0 409.8L809.0 409.4L811.0 409.3L813.0 409.4L815.0 409.3L817.0 409.1L818.0 409.0L820.0 408.7L822.0 408.9L823.0 409.1L825.0 409.9L826.0 410.4L827.0 411.1L828.3 412.0L829.7 413.0L831.0 413.9L832.0 414.5L833.2 415.0L835.0 415.4L836.9 415.0L838.0 414.4L839.0 413.6L840.0 412.8L841.2 412.0L843.0 411.1L844.0 410.9L846.0 410.8L848.0 410.8L850.0 410.7L852.0 410.1L853.0 409.5L854.0 408.8L855.0 408.0L856.1 407.0L857.4 406.0L859.0 405.1L860.0 404.9L862.0 404.9L863.0 405.1L865.0 405.8L866.0 406.1L868.0 406.7L869.4 407.0L871.0 407.1L873.0 407.1L874.2 407.0L876.0 406.9L878.0 406.9L879.8 407.0L881.0 407.2L883.0 407.4L885.0 407.4L886.5 407.0L888.0 406.2L889.0 405.4L890.0 404.5L891.0 403.6L893.0 403.1L895.0 403.5L896.4 404.0L898.0 404.2M595.0 488.7L597.0 488.6L599.0 488.6L601.0 488.2L602.0 487.8L603.2 487.0L604.2 486.0L605.1 485.0L606.0 483.5L606.9 482.0L607.4 481.0L608.0 479.9L609.0 478.1L609.7 477.0L610.5 476.0L611.4 475.0L612.8 474.0L614.0 473.4L616.0 473.1L618.0 473.3L620.0 473.7L621.1 474.0L623.0 474.5L625.0 474.9L626.0 475.0L627.1 475.0L629.0 474.7L631.0 474.0L632.0 473.6L633.1 473.0L634.8 472.0L636.0 471.4L637.0 470.9L639.0 470.4L641.0 470.2L643.0 470.4L645.0 470.6L647.0 470.7L649.0 470.7L651.0 471.0L652.0 471.2L654.0 471.7L655.0 472.1L657.0 472.7L658.0 473.1L660.0 473.6L661.9 474.0L663.0 474.2L665.0 474.4L667.0 474.7L669.0 474.8L671.0 474.9L673.0 474.8L675.0 474.6L677.0 474.1L678.0 473.8L679.8 473.0L681.0 472.4L682.0 471.8L683.6 471.0L685.0 470.4L686.1 470.0L688.0 469.6L690.0 469.4L692.0 469.2L693.1 469.0L695.0 468.4L696.1 468.0L698.0 467.2L699.0 466.8L701.0 466.2L702.0 466.0L704.0 465.7L706.0 465.7L708.0 465.7L710.0 465.5L711.9 465.0L713.0 464.5L714.0 463.9L715.3 463.0L716.4 462.0L717.4 461.0L718.4 460.0L719.5 459.0L720.8 458.0L722.0 457.2L723.0 456.7L724.6 456.0L726.0 455.3L727.0 454.7L728.0 454.0L729.3 453.0L730.4 452.0L731.8 451.0L733.0 450.4L734.1 450.0L736.0 449.6L738.0 449.2L739.0 448.9L740.9 448.0L742.0 447.3L743.0 446.6L744.0 446.0L746.0 445.3L748.0 445.4L749.4 446.0L751.0 446.8L752.0 447.3L753.4 448.0L755.0 448.7L756.7 449.0L757.8 449.0L759.0 448.8L760.6 448.0L762.0 447.1L763.0 446.2L764.0 445.2L765.0 444.0L765.9 443.0L766.6 442.0L767.4 441.0L768.2 440.0L769.0 438.9L770.0 437.7L771.0 436.4L771.8 435.0L772.3 434.0L772.9 432.0L773.2 431.0L773.7 429.0L774.0 427.9L774.6 426.0L775.0 424.9L775.9 423.0L776.5 422.0L777.3 421.0L778.6 420.0L780.0 419.4L782.0 419.2L784.0 419.6L785.3 420.0L787.0 420.5L789.0 420.9L791.0 420.9L793.0 420.6L795.0 420.3L797.0 420.2L799.0 420.2L801.0 420.1L802.0 419.9L804.0 419.0L805.0 418.4L806.0 417.7L807.1 417.0L809.0 416.1L810.0 415.8L812.0 415.5L814.0 415.5L816.0 415.6L818.0 415.5L820.0 415.4L822.0 415.4L824.0 415.8L825.0 416.2L826.5 417.0L828.0 418.0L829.0 418.7L830.0 419.5L831.0 420.3L832.0 421.0L833.5 422.0L835.0 422.8L836.0 423.1L838.0 423.1L839.0 422.8L840.7 422.0L842.0 421.3L843.0 420.8L845.0 420.3L847.0 420.2L849.0 420.3L851.0 420.3L852.9 420.0L854.0 419.6L855.0 419.0L856.5 418.0L857.8 417.0L859.0 416.1L860.0 415.6L862.0 415.1L864.0 415.3L866.0 415.9L867.0 416.3L868.8 417.0L870.0 417.4L871.8 418.0L873.0 418.3L875.0 418.6L877.0 418.7L879.0 418.7L881.0 418.8L882.7 419.0L884.0 419.2L886.0 419.6L888.0 419.8L890.0 419.9L892.0 419.7L894.0 419.3L896.0 419.1L898.0 419.2M595.0 509.2L596.0 508.1L597.0 507.0L598.0 506.2L599.0 505.4L600.0 504.9L601.8 504.0L603.0 503.5L604.2 503.0L606.0 502.0L607.0 501.3L608.0 500.3L609.0 499.0L609.5 498.0L610.0 496.8L610.6 495.0L611.0 493.8L611.6 492.0L612.0 490.7L612.6 489.0L613.1 488.0L614.0 486.4L615.0 485.1L616.0 484.3L617.0 483.7L619.0 483.2L621.0 483.3L623.0 483.7L624.3 484.0L626.0 484.4L628.0 484.6L630.0 484.4L631.5 484.0L633.0 483.4L634.0 482.9L635.5 482.0L637.0 481.0L638.0 480.4L639.0 479.9L641.0 479.3L643.0 479.0L645.0 479.1L647.0 479.1L648.9 479.0L650.0 478.9L652.0 478.8L654.0 479.0L655.0 479.2L657.0 479.7L658.2 480.0L660.0 480.5L662.0 480.9L663.0 481.1L665.0 481.3L667.0 481.5L669.0 481.7L671.0 481.8L673.0 481.8L675.0 481.7L677.0 481.4L678.7 481.0L680.0 480.6L681.8 480.0L683.0 479.5L684.3 479.0L686.0 478.4L687.1 478.0L689.0 477.5L691.0 477.2L692.8 477.0L694.0 476.8L696.0 476.3L697.0 476.0L699.0 475.3L700.0 474.9L702.0 474.4L704.0 474.1L706.0 474.0L708.0 474.1L710.0 474.1L712.0 474.0L713.0 473.9L715.0 473.2L716.0 472.6L717.0 472.0L718.2 471.0L719.4 470.0L720.6 469.0L721.9 468.0L723.0 467.3L724.0 466.8L726.0 466.0L727.0 465.7L728.8 465.0L730.0 464.4L731.0 463.9L732.4 463.0L734.0 462.1L735.0 461.5L736.4 461.0L738.0 460.5L740.0 460.0L741.0 459.7L743.0 459.0L744.0 458.5L745.1 458.0L747.0 457.1L748.0 456.8L750.0 456.5L752.0 456.8L753.0 457.0L755.0 457.6L756.4 458.0L758.0 458.3L760.0 458.4L762.0 458.0L763.0 457.7L764.6 457.0L766.0 456.3L767.0 455.7L768.1 455.0L769.7 454.0L771.0 453.2L772.0 452.7L773.6 452.0L775.0 451.4L776.1 451.0L777.8 450.0L778.9 449.0L779.6 448.0L780.3 447.0L781.0 445.6L781.7 444.0L782.0 443.0L782.7 441.0L783.0 440.0L783.8 438.0L784.3 437.0L785.1 436.0L787.0 435.1L789.0 435.1L791.0 435.1L792.0 434.9L794.0 434.1L795.0 433.5L796.0 432.8L797.6 432.0L799.0 431.5L801.0 431.3L803.0 431.0L804.0 430.8L805.4 430.0L806.6 429.0L807.4 428.0L808.3 427.0L809.1 426.0L810.1 425.0L811.5 424.0L813.0 423.4L815.0 423.1L817.0 423.2L819.0 423.3L821.0 423.3L823.0 423.4L825.0 423.7L826.0 424.1L828.0 425.0L829.0 425.5L830.0 426.2L831.3 427.0L832.8 428.0L834.0 428.7L835.0 429.2L836.9 430.0L838.0 430.2L840.0 430.1L841.0 429.8L842.7 429.0L844.0 428.4L845.2 428.0L847.0 427.7L849.0 427.7L851.0 427.9L853.0 427.8L855.0 427.2L856.0 426.7L857.1 426.0L858.4 425.0L859.8 424.0L861.0 423.3L862.0 422.8L864.0 422.5L866.0 422.7L867.0 423.0L869.0 423.8L870.0 424.3L871.6 425.0L873.0 425.6L874.0 426.0L876.0 426.7L877.3 427.0L879.0 427.3L881.0 427.6L883.0 427.8L884.0 428.0L886.0 428.5L887.7 429.0L889.0 429.4L891.0 429.8L893.0 429.9L895.0 429.7L897.0 429.4L899.0 429.2M595.0 516.6L596.0 515.9L597.3 515.0L598.9 514.0L600.0 513.4L601.0 512.9L603.0 512.0L604.0 511.7L606.0 511.0L607.0 510.7L609.0 510.0L610.0 509.6L611.2 509.0L612.6 508.0L613.6 507.0L614.3 506.0L615.0 505.0L616.0 503.2L616.6 502.0L617.0 501.0L618.0 499.0L618.5 498.0L619.1 497.0L620.0 495.9L621.0 495.0L623.0 494.2L625.0 494.1L627.0 494.2L629.0 494.2L630.9 494.0L632.0 493.7L634.0 493.0L635.0 492.5L636.0 491.9L637.4 491.0L639.0 490.0L640.0 489.3L641.0 488.8L643.0 488.0L644.0 487.8L646.0 487.5L648.0 487.4L650.0 487.1L651.0 486.8L653.0 486.4L655.0 486.3L657.0 486.5L659.0 486.9L660.0 487.1L662.0 487.7L663.6 488.0L665.0 488.3L667.0 488.6L669.0 488.8L670.4 489.0L672.0 489.2L674.0 489.4L676.0 489.5L678.0 489.4L680.0 489.1L681.0 488.9L683.0 488.3L684.2 488.0L686.0 487.4L687.4 487.0L689.0 486.6L691.0 486.1L692.0 486.0L694.0 485.7L696.0 485.3L697.1 485.0L699.0 484.4L700.1 484.0L702.0 483.4L703.6 483.0L705.0 482.8L707.0 482.8L708.9 483.0L710.0 483.2L712.0 483.5L714.0 483.5L716.0 483.1L717.0 482.7L718.1 482.0L719.3 481.0L720.3 480.0L721.3 479.0L722.3 478.0L723.4 477.0L724.7 476.0L726.0 475.2L727.0 474.8L729.0 474.1L730.0 473.7L731.7 473.0L733.0 472.3L734.0 471.7L735.2 471.0L737.0 470.0L738.0 469.5L739.4 469.0L741.0 468.5L742.5 468.0L744.0 467.5L745.1 467.0L747.0 466.1L748.0 465.7L749.9 465.0L751.0 464.8L753.0 464.7L755.0 464.9L756.0 465.1L758.0 465.5L760.0 465.8L762.0 465.8L764.0 465.4L765.2 465.0L767.0 464.2L768.0 463.7L769.3 463.0L770.9 462.0L772.0 461.4L773.0 460.8L774.8 460.0L776.0 459.6L777.6 459.0L779.0 458.5L780.0 458.0L781.4 457.0L782.5 456.0L783.4 455.0L784.3 454.0L785.1 453.0L786.0 451.8L787.0 450.7L788.0 449.8L789.1 449.0L791.0 448.2L792.0 447.8L794.0 447.1L795.0 446.6L796.0 446.0L797.4 445.0L798.9 444.0L800.0 443.3L801.0 442.8L803.0 442.3L804.8 442.0L806.0 441.7L807.7 441.0L809.0 440.0L809.8 439.0L810.6 438.0L811.3 437.0L812.0 436.0L813.0 434.7L814.0 433.6L815.0 432.9L817.0 432.2L819.0 432.0L821.0 432.0L823.0 432.0L825.0 432.1L827.0 432.3L829.0 432.8L830.0 433.2L832.0 434.0L833.0 434.5L834.0 435.0L836.0 436.0L837.0 436.4L839.0 437.0L840.0 437.1L841.3 437.0L843.0 436.5L844.2 436.0L846.0 435.3L847.0 435.0L849.0 434.8L850.6 435.0L852.0 435.2L854.0 435.4L856.0 435.0L857.0 434.5L858.0 433.9L859.0 433.0L860.2 432.0L861.3 431.0L862.8 430.0L864.0 429.5L866.0 429.4L868.0 429.9L869.0 430.4L870.2 431.0L871.8 432.0L873.0 432.8L874.0 433.5L875.0 434.1L876.4 435.0L878.0 435.9L879.0 436.3L881.0 436.9L882.0 437.1L884.0 437.3L886.0 437.5L888.0 437.8L889.0 438.0L891.0 438.3L893.0 438.4L895.0 438.2L896.0 438.0L898.0 437.4M595.0 521.9L596.5 521.0L598.0 520.1L599.0 519.5L600.0 519.0L602.0 518.0L603.0 517.7L605.0 517.0L606.0 516.8L608.0 516.4L610.0 516.0L611.0 515.8L613.0 515.3L614.0 514.9L615.5 514.0L616.6 513.0L617.5 512.0L618.3 511.0L619.0 510.0L620.0 508.6L621.0 507.2L622.0 506.0L623.0 505.0L624.0 504.3L625.0 503.8L627.0 503.2L629.0 503.0L630.0 502.9L632.0 502.7L634.0 502.2L635.0 501.9L637.0 501.0L638.0 500.4L639.0 499.9L640.4 499.0L642.0 498.0L643.0 497.4L644.0 497.0L646.0 496.4L648.0 496.1L649.0 495.9L651.0 495.6L652.7 495.0L654.0 494.5L656.0 494.0L657.0 493.9L658.0 494.0L660.0 494.5L661.5 495.0L663.0 495.6L664.0 496.1L666.0 497.0L667.0 497.4L668.2 498.0L670.0 498.9L671.0 499.4L672.1 500.0L673.8 501.0L675.0 501.7L676.0 502.3L677.4 503.0L679.0 503.6L681.0 503.9L683.0 503.7L685.0 503.3L686.1 503.0L688.0 502.5L690.0 502.0L691.0 501.8L693.0 501.2L694.0 500.9L696.0 500.2L697.0 499.8L698.8 499.0L700.0 498.4L701.0 498.0L702.9 497.0L704.0 496.4L705.0 496.0L707.0 495.2L708.0 495.0L710.0 494.7L712.0 494.7L714.0 494.7L716.0 494.6L718.0 494.1L719.0 493.7L720.0 493.0L721.2 492.0L722.1 491.0L723.0 490.0L724.0 488.7L725.0 487.4L726.0 486.2L727.0 485.2L728.0 484.4L729.0 483.7L730.3 483.0L732.0 482.2L733.0 481.7L734.2 481.0L735.7 480.0L737.0 479.1L738.0 478.5L739.0 477.8L740.6 477.0L742.0 476.4L743.0 476.0L745.0 475.2L746.0 474.8L747.8 474.0L749.0 473.5L750.1 473.0L752.0 472.4L754.0 472.1L756.0 472.2L758.0 472.5L760.0 472.8L761.2 473.0L763.0 473.1L764.4 473.0L766.0 472.7L768.0 472.0L769.0 471.6L770.0 471.0L771.5 470.0L772.9 469.0L774.0 468.2L775.0 467.6L776.3 467.0L778.0 466.3L779.0 466.0L781.0 465.3L782.0 464.8L783.2 464.0L784.4 463.0L785.4 462.0L786.4 461.0L787.3 460.0L788.3 459.0L789.4 458.0L790.8 457.0L792.0 456.3L793.0 455.8L794.8 455.0L796.0 454.4L797.0 453.8L798.3 453.0L799.7 452.0L801.0 451.2L802.0 450.7L804.0 450.0L805.0 449.8L807.0 449.5L809.0 449.0L810.0 448.5L811.0 447.8L812.0 446.9L813.0 445.8L814.0 444.6L815.0 443.5L816.0 442.4L817.0 441.6L818.2 441.0L820.0 440.4L822.0 440.2L824.0 440.2L826.0 440.3L828.0 440.4L830.0 440.6L831.7 441.0L833.0 441.4L834.6 442.0L836.0 442.6L837.0 443.1L839.0 444.0L840.0 444.3L842.0 444.8L844.0 444.6L846.0 444.0L847.0 443.6L849.0 443.2L851.0 443.4L852.8 444.0L854.0 444.5L855.5 445.0L857.0 445.2L858.2 445.0L859.8 444.0L860.6 443.0L861.4 442.0L862.1 441.0L863.0 439.9L864.0 438.8L865.3 438.0L867.0 437.6L868.7 438.0L870.0 438.6L871.0 439.2L872.1 440.0L873.4 441.0L874.7 442.0L876.0 442.9L877.0 443.5L878.0 444.1L880.0 444.9L881.0 445.1L883.0 445.3L885.0 445.2L887.0 445.0L888.0 444.9L890.0 444.8L892.0 444.8L894.0 444.6L896.0 444.2L897.0 443.9L899.0 443.2M595.0 527.5L596.1 527.0L597.8 526.0L599.0 525.2L600.0 524.6L601.2 524.0L603.0 523.2L604.0 522.9L606.0 522.4L608.0 522.1L610.0 522.1L612.0 522.3L614.0 522.5L616.0 522.5L617.5 522.0L618.9 521.0L619.8 520.0L620.5 519.0L621.2 518.0L622.0 516.8L623.0 515.4L624.0 514.3L625.0 513.3L626.0 512.7L627.9 512.0L629.0 511.8L631.0 511.8L633.0 512.0L634.0 512.1L636.0 512.1L637.0 512.0L639.0 511.6L640.9 511.0L642.0 510.5L643.1 510.0L645.0 509.0L646.0 508.6L648.0 508.2L650.0 508.2L652.0 508.3L653.8 508.0L655.0 507.4L656.0 506.7L657.1 506.0L659.0 505.4L661.0 505.9L662.0 506.6L663.0 507.4L664.0 508.4L665.0 509.5L666.0 510.6L667.0 511.7L668.0 512.6L669.0 513.5L670.0 514.2L671.6 515.0L673.0 515.5L675.0 515.9L677.0 516.0L679.0 515.9L681.0 515.6L683.0 515.1L684.0 514.8L685.9 514.0L687.0 513.5L688.2 513.0L690.0 512.2L691.0 511.8L693.0 511.1L694.0 510.7L695.7 510.0L697.0 509.5L698.0 509.0L700.0 508.1L701.0 507.6L702.3 507.0L704.0 506.2L705.0 505.8L706.7 505.0L708.0 504.4L709.0 504.0L711.0 503.3L712.5 503.0L714.0 502.7L716.0 502.5L718.0 502.2L719.0 501.9L721.0 501.2L722.0 500.6L723.0 500.0L724.2 499.0L725.2 498.0L726.1 497.0L727.0 496.0L728.0 494.9L729.0 493.9L730.0 492.9L731.2 492.0L732.7 491.0L734.0 490.2L735.0 489.6L736.0 488.9L737.3 488.0L738.7 487.0L740.0 486.1L741.0 485.4L742.0 484.8L743.5 484.0L745.0 483.3L746.0 482.9L748.0 482.1L749.0 481.7L750.5 481.0L752.0 480.4L753.6 480.0L755.0 479.8L757.0 479.8L758.2 480.0L760.0 480.4L762.0 481.0L763.0 481.3L765.0 481.8L766.0 482.0L768.0 482.2L770.0 482.2L771.0 481.9L773.0 481.0L774.0 480.2L775.0 479.2L776.0 478.3L777.0 477.4L778.0 476.7L780.0 476.0L781.0 475.9L783.0 475.9L785.0 475.4L786.0 474.6L787.0 473.1L787.6 472.0L788.1 471.0L789.0 469.2L789.7 468.0L790.4 467.0L791.2 466.0L792.1 465.0L793.3 464.0L794.8 463.0L796.0 462.2L797.0 461.6L798.0 460.8L799.0 460.0L800.3 459.0L801.6 458.0L803.0 457.1L804.0 456.7L806.0 456.2L807.6 456.0L809.0 455.9L811.0 455.4L812.0 454.9L813.2 454.0L814.3 453.0L815.3 452.0L816.2 451.0L817.3 450.0L818.5 449.0L820.0 448.2L821.0 447.9L823.0 447.6L825.0 447.7L827.0 448.0L828.0 448.2L830.0 448.5L832.0 449.0L833.0 449.2L835.0 449.9L836.0 450.4L837.3 451.0L839.0 452.0L840.0 452.6L841.0 453.2L842.3 454.0L844.0 454.7L845.2 455.0L846.7 455.0L848.0 454.7L850.0 454.2L852.0 454.2L854.0 454.8L855.0 455.2L856.9 456.0L858.0 456.3L860.0 456.4L861.0 456.0L862.2 455.0L863.1 454.0L864.0 452.7L865.0 451.2L865.9 450.0L866.7 449.0L868.0 448.0L869.0 447.7L871.0 447.8L872.0 448.1L874.0 449.0L875.0 449.4L876.2 450.0L878.0 450.7L879.0 451.1L881.0 451.6L883.0 451.8L885.0 451.6L887.0 451.2L888.0 451.0L890.0 450.6L892.0 450.3L893.9 450.0L895.0 449.8L897.0 449.2L898.0 448.9M595.0 538.8L595.8 540.0L596.2 541.0L596.6 543.0L596.9 545.0L597.1 546.0L597.8 548.0L598.5 549.0L599.6 550.0L601.0 550.1L601.9 549.0L602.1 548.0L602.1 546.0L601.9 545.0L601.2 543.0L600.7 542.0L600.0 540.0L599.8 539.0L600.0 537.0L600.2 536.0L601.0 534.5L602.0 533.0L603.0 532.0L604.0 531.4L605.0 530.9L607.0 530.5L609.0 530.8L610.0 531.3L611.0 532.1L612.0 533.3L613.0 535.0L613.4 536.0L614.0 537.5L614.5 539.0L615.0 540.2L615.7 542.0L616.2 543.0L617.0 544.5L618.0 546.0L618.8 547.0L619.7 548.0L620.8 549.0L622.0 549.8L623.0 550.1L624.9 550.0L626.0 549.2L626.9 548.0L627.5 547.0L628.0 545.7L628.5 544.0L629.0 542.1L629.3 541.0L629.6 539.0L630.0 537.0L630.2 536.0L630.8 534.0L631.7 533.0L633.0 532.9L634.0 533.4L635.1 534.0L636.8 535.0L638.0 535.6L639.0 536.0L641.0 536.6L643.0 536.8L645.0 536.6L647.0 536.0L648.0 535.6L649.0 534.9L650.2 534.0L651.4 533.0L652.6 532.0L653.9 531.0L655.0 530.2L656.0 529.5L657.0 528.8L658.1 528.0L659.2 527.0L660.2 526.0L661.1 525.0L662.2 524.0L663.9 523.0L665.0 522.8L667.0 522.9L668.0 523.1L670.0 523.5L672.0 523.9L673.0 524.0L675.0 524.0L676.0 523.9L678.0 523.6L680.0 523.1L681.0 522.8L683.0 522.2L684.0 521.8L685.8 521.0L687.0 520.4L688.0 519.9L689.6 519.0L691.0 518.3L692.0 517.8L693.9 517.0L695.0 516.6L696.3 516.0L698.0 515.3L699.0 514.8L700.7 514.0L702.0 513.4L703.0 512.9L705.0 512.0L706.0 511.6L707.4 511.0L709.0 510.3L710.0 509.9L712.0 509.2L713.0 508.9L715.0 508.5L717.0 508.1L718.0 508.0L720.0 507.6L722.0 507.1L723.0 506.7L724.3 506.0L725.8 505.0L727.0 504.0L728.0 503.1L729.0 502.2L730.0 501.2L731.0 500.4L732.0 499.5L733.0 498.8L734.2 498.0L735.8 497.0L737.0 496.3L738.0 495.6L739.0 495.0L740.5 494.0L742.0 493.0L743.0 492.4L744.0 491.8L745.6 491.0L747.0 490.4L748.2 490.0L750.0 489.4L751.2 489.0L753.0 488.5L755.0 488.1L757.0 488.1L759.0 488.4L760.9 489.0L762.0 489.4L763.3 490.0L765.0 490.8L766.0 491.2L767.9 492.0L769.0 492.4L771.0 493.0L772.0 493.2L774.0 493.3L776.0 493.1L777.0 492.9L779.0 492.3L780.5 492.0L782.0 491.9L783.0 492.0L785.0 492.5L786.3 493.0L788.0 493.6L789.2 494.0L791.0 494.4L793.0 494.6L795.0 494.6L797.0 494.5L799.0 494.1L800.0 493.8L801.8 493.0L803.0 492.1L804.0 491.1L804.8 490.0L805.4 489.0L806.0 487.5L806.5 486.0L806.7 484.0L806.6 482.0L806.0 480.1L805.5 479.0L805.0 477.9L804.0 476.0L803.5 475.0L803.0 473.8L802.4 472.0L802.3 470.0L802.6 468.0L803.0 467.0L804.0 465.5L805.0 464.6L806.2 464.0L808.0 463.7L810.0 463.9L811.0 464.1L812.2 464.0L814.0 463.2L815.0 462.2L815.9 461.0L816.6 460.0L817.4 459.0L818.2 458.0L819.2 457.0L820.5 456.0L822.0 455.4L824.0 455.2L826.0 455.5L827.3 456.0L829.0 456.9L830.0 457.5L831.0 458.2L832.1 459.0L833.2 460.0L834.3 461.0L835.3 462.0L836.2 463.0L837.1 464.0L838.0 465.0L839.0 466.0L840.1 467.0L841.4 468.0L843.0 468.9L844.0 469.3L846.0 469.8L848.0 469.6L849.1 469.0L850.5 468.0L851.8 467.0L853.0 466.2L854.0 465.7L856.0 465.5L858.0 465.9L859.0 466.1L861.0 466.2L862.0 466.0L863.5 465.0L864.4 464.0L865.1 463.0L866.0 461.4L866.8 460.0L867.5 459.0L868.2 458.0L869.2 457.0L870.7 456.0L872.0 455.6L874.0 455.7L875.5 456.0L877.0 456.4L878.8 457.0L880.0 457.3L882.0 457.8L884.0 457.9L886.0 457.7L888.0 457.2L889.0 456.9L891.0 456.3L892.2 456.0L894.0 455.6L896.0 455.2L897.0 454.8L898.9 454.0M628.4 559.0L629.8 558.0L630.9 557.0L631.8 556.0L632.7 555.0L633.6 554.0L634.6 553.0L635.8 552.0L637.0 551.2L638.0 550.8L640.0 550.3L642.0 550.2L644.0 550.1L645.0 550.0L647.0 549.6L648.8 549.0L650.0 548.4L651.0 547.7L652.0 546.7L653.0 545.6L654.0 544.3L655.0 543.0L655.7 542.0L656.5 541.0L657.4 540.0L658.3 539.0L659.2 538.0L660.2 537.0L661.1 536.0L662.0 535.0L663.0 533.9L664.0 532.9L665.0 532.0L666.9 531.0L668.0 530.7L670.0 530.7L672.0 530.8L674.0 530.8L676.0 530.7L678.0 530.3L679.0 530.0L681.0 529.3L682.0 528.9L684.0 528.1L685.0 527.6L686.2 527.0L688.0 526.0L689.0 525.4L690.0 524.8L691.3 524.0L693.0 523.1L694.0 522.6L695.2 522.0L697.0 521.2L698.0 520.7L699.5 520.0L701.0 519.3L702.0 518.8L703.7 518.0L705.0 517.4L706.0 517.0L708.0 516.1L709.0 515.7L710.8 515.0L712.0 514.5L713.7 514.0L715.0 513.6L717.0 513.2L718.6 513.0L720.0 512.8L722.0 512.5L723.7 512.0L725.0 511.5L726.0 511.0L727.6 510.0L728.9 509.0L730.0 508.1L731.0 507.3L732.0 506.4L733.0 505.7L734.0 504.9L735.4 504.0L737.0 503.0L738.0 502.5L739.0 501.9L740.6 501.0L742.0 500.2L743.0 499.6L744.1 499.0L746.0 498.1L747.0 497.7L749.0 497.0L750.0 496.8L752.0 496.3L753.8 496.0L755.0 495.9L757.0 495.8L759.0 495.9L760.0 496.1L762.0 496.5L763.5 497.0L765.0 497.5L766.5 498.0L768.0 498.5L769.8 499.0L771.0 499.3L773.0 499.7L775.0 499.8L777.0 499.7L779.0 499.3L780.1 499.0L782.0 498.6L784.0 498.5L786.0 498.8L787.1 499.0L789.0 499.5L791.0 500.0L792.0 500.2L794.0 500.5L796.0 500.6L798.0 500.6L800.0 500.5L802.0 500.1L803.0 499.8L804.6 499.0L806.0 498.0L807.0 497.1L808.0 496.2L809.0 495.1L810.0 494.2L811.0 493.5L812.2 493.0L814.0 492.8L815.8 493.0L817.0 493.2L819.0 493.5L821.0 493.1L822.0 492.6L823.0 491.7L824.0 490.6L825.0 489.2L825.7 488.0L826.4 487.0L827.0 486.0L828.0 484.7L829.0 484.0L831.0 483.7L832.0 484.0L834.0 485.0L835.0 485.5L836.0 486.1L837.9 487.0L839.0 487.4L841.0 487.8L843.0 487.8L845.0 487.2L846.0 486.8L847.9 486.0L849.0 485.5L850.1 485.0L851.6 484.0L852.8 483.0L853.8 482.0L854.6 481.0L855.5 480.0L856.5 479.0L858.0 478.0L859.0 477.7L861.0 477.8L863.0 477.9L865.0 477.5L866.0 476.6L867.0 475.0L867.4 474.0L868.0 472.3L868.4 471.0L869.0 469.2L869.4 468.0L870.0 466.7L871.0 465.0L872.0 464.0L873.0 463.3L874.0 463.0L876.0 463.0L877.0 463.2L879.0 463.8L880.0 464.2L881.8 465.0L883.0 465.5L884.6 466.0L886.0 466.3L888.0 466.2L889.0 465.9L891.0 465.0L892.0 464.6L893.7 464.0L895.0 463.6L897.0 463.0L898.0 462.6M608.9 559.0L610.0 558.0L611.0 557.2L612.0 556.5L613.0 556.0L615.0 555.7L616.6 556.0L618.0 556.5L619.0 557.0L620.8 558.0L622.0 558.6M645.3 559.0L647.0 558.9L649.0 558.8L651.0 558.3L652.0 557.9L653.5 557.0L654.7 556.0L655.6 555.0L656.3 554.0L657.0 553.0L658.0 551.5L658.9 550.0L659.6 549.0L660.3 548.0L661.0 547.0L662.0 545.7L663.0 544.3L663.9 543.0L664.7 542.0L665.5 541.0L666.4 540.0L667.6 539.0L669.0 538.2L670.0 538.0L672.0 537.8L674.0 537.9L676.0 538.0L678.0 537.7L680.0 537.2L681.0 536.7L682.5 536.0L684.0 535.3L685.0 534.7L686.3 534.0L687.8 533.0L689.0 532.2L690.0 531.4L691.0 530.7L692.0 529.9L693.3 529.0L694.9 528.0L696.0 527.4L697.0 526.9L698.7 526.0L700.0 525.4L701.0 524.8L702.6 524.0L704.0 523.3L705.0 522.8L706.8 522.0L708.0 521.5L709.3 521.0L711.0 520.3L712.0 519.9L714.0 519.2L715.0 518.8L717.0 518.3L719.0 518.0L720.0 517.9L722.0 517.7L724.0 517.4L725.5 517.0L727.0 516.4L728.0 515.9L729.4 515.0L730.7 514.0L731.9 513.0L733.0 512.1L734.0 511.3L735.0 510.6L736.0 509.9L737.3 509.0L739.0 508.0L740.0 507.5L741.0 506.9L742.7 506.0L744.0 505.3L745.0 504.8L746.9 504.0L748.0 503.6L750.0 503.0L751.0 502.8L753.0 502.4L755.0 502.2L757.0 502.0L758.0 502.0L759.2 502.0L761.0 502.1L763.0 502.4L765.0 502.8L766.0 503.0L768.0 503.5L770.0 504.0L771.0 504.2L773.0 504.6L775.0 504.8L777.0 504.8L779.0 504.6L781.0 504.1L782.0 503.9L784.0 503.6L786.0 503.6L788.0 504.0L789.0 504.2L791.0 504.8L792.0 505.1L794.0 505.6L796.0 506.0L797.0 506.1L799.0 506.4L801.0 506.5L803.0 506.3L804.2 506.0L806.0 505.2L807.0 504.5L808.0 503.7L809.0 502.8L810.0 501.9L811.1 501.0L812.8 500.0L814.0 499.6L816.0 499.6L817.8 500.0L819.0 500.3L821.0 500.5L823.0 500.3L824.0 499.8L825.2 499.0L826.4 498.0L827.4 497.0L828.5 496.0L829.9 495.0L831.0 494.5L833.0 494.1L835.0 494.4L837.0 494.9L838.0 495.3L840.0 495.9L841.0 496.1L843.0 496.3L845.0 496.2L846.1 496.0L848.0 495.4L849.2 495.0L851.0 494.3L852.0 493.9L853.8 493.0L855.0 492.2L856.0 491.5L857.0 490.6L858.0 489.8L859.1 489.0L861.0 488.1L862.0 487.9L864.0 487.9L866.0 487.8L868.0 487.1L869.0 486.3L870.0 485.1L870.6 484.0L871.1 483.0L871.9 481.0L872.3 480.0L873.0 478.1L873.5 477.0L874.0 475.9L875.0 474.5L876.0 473.9L878.0 473.7L879.0 474.0L880.8 475.0L882.0 475.8L883.0 476.5L884.0 477.1L885.4 478.0L887.0 478.9L888.0 479.3L890.0 479.7L892.0 479.6L894.0 479.1L895.0 478.9L897.0 478.4L899.0 478.2M660.5 559.0L661.2 558.0L662.0 556.8L663.0 555.4L664.0 554.1L664.8 553.0L665.6 552.0L666.3 551.0L667.1 550.0L668.0 549.0L669.0 548.0L670.5 547.0L672.0 546.5L674.0 546.5L676.0 546.9L677.0 547.2L679.0 547.5L681.0 547.4L682.4 547.0L684.0 546.2L685.0 545.6L686.0 544.9L687.2 544.0L688.4 543.0L689.5 542.0L690.5 541.0L691.3 540.0L692.2 539.0L693.0 538.0L694.0 536.9L695.0 535.9L696.0 535.0L697.3 534.0L698.9 533.0L700.0 532.3L701.0 531.7L702.1 531.0L703.7 530.0L705.0 529.2L706.0 528.7L707.5 528.0L709.0 527.3L710.0 526.9L712.0 526.1L713.0 525.7L714.8 525.0L716.0 524.6L718.0 524.0L719.0 523.8L721.0 523.7L723.0 523.7L725.0 523.6L727.0 523.3L728.1 523.0L730.0 522.0L731.0 521.3L732.0 520.4L733.0 519.5L734.0 518.5L735.0 517.5L736.0 516.6L737.0 515.8L738.0 515.0L739.4 514.0L741.0 513.0L742.0 512.4L743.0 511.9L744.6 511.0L746.0 510.3L747.0 509.8L749.0 509.1L750.0 508.8L752.0 508.3L753.4 508.0L755.0 507.8L757.0 507.5L759.0 507.4L761.0 507.4L763.0 507.4L765.0 507.7L767.0 508.0L768.0 508.2L770.0 508.7L771.4 509.0L773.0 509.4L775.0 509.8L776.6 510.0L778.0 510.0L779.0 510.0L781.0 509.6L783.0 509.1L784.0 508.9L786.0 508.8L787.9 509.0L789.0 509.3L791.0 510.0L792.0 510.4L793.4 511.0L795.0 511.7L796.0 512.1L798.0 512.9L799.0 513.2L801.0 513.7L802.9 514.0L804.0 514.0L805.0 513.9L807.0 513.0L808.0 512.3L809.0 511.4L810.0 510.3L811.0 509.1L812.0 508.1L813.0 507.2L814.0 506.6L816.0 506.1L818.0 506.3L820.0 506.8L821.0 507.1L823.0 507.3L824.8 507.0L826.0 506.5L827.0 505.8L828.0 505.0L829.1 504.0L830.4 503.0L832.0 502.0L833.0 501.6L835.0 501.4L837.0 501.6L839.0 502.0L840.0 502.2L842.0 502.6L844.0 502.9L846.0 502.8L848.0 502.5L849.7 502.0L851.0 501.6L852.8 501.0L854.0 500.5L855.2 500.0L857.0 499.0L858.0 498.3L859.0 497.6L860.0 496.9L861.7 496.0L863.0 495.6L865.0 495.3L867.0 495.2L868.7 495.0L870.0 494.5L871.0 493.8L872.0 492.8L873.0 491.4L873.8 490.0L874.4 489.0L875.0 488.0L876.0 486.6L877.0 485.6L878.0 484.9L880.0 484.5L882.0 484.9L883.0 485.3L884.6 486.0L886.0 486.7L887.0 487.1L889.0 487.9L890.0 488.2L892.0 488.6L894.0 488.5L896.0 488.1L897.0 487.9L899.0 487.5M668.4 559.0L669.4 558.0L670.7 557.0L672.0 556.3L673.0 556.0L675.0 556.0L676.0 556.2L678.0 556.9L679.0 557.4L680.6 558.0L682.0 558.4L684.0 558.7L686.0 558.4L687.2 558.0L689.0 557.1L690.0 556.5L691.0 555.9L692.1 555.0L693.2 554.0L694.1 553.0L695.0 551.7L696.0 550.2L696.8 549.0L697.5 548.0L698.2 547.0L699.0 546.0L700.0 544.9L701.0 543.9L702.0 543.0L703.1 542.0L704.2 541.0L705.2 540.0L706.4 539.0L707.7 538.0L709.0 537.1L710.0 536.6L711.5 536.0L713.0 535.4L714.0 535.0L716.0 534.1L717.0 533.6L718.5 533.0L720.0 532.6L722.0 532.5L724.0 533.0L725.0 533.4L726.3 534.0L728.0 535.0L729.0 535.6L730.0 536.2L732.0 537.0L734.0 536.1L734.5 535.0L735.0 533.8L735.5 532.0L736.0 530.1L736.3 529.0L737.0 527.1L737.5 526.0L738.0 524.9L739.0 523.3L740.0 522.0L740.9 521.0L741.9 520.0L743.0 519.1L744.0 518.4L745.0 517.7L746.0 517.0L747.8 516.0L749.0 515.4L750.0 514.9L752.0 514.3L753.1 514.0L755.0 513.6L757.0 513.4L759.0 513.2L761.0 513.0L762.0 513.0L764.0 513.0L765.0 513.0L767.0 513.3L769.0 513.7L770.1 514.0L772.0 514.7L773.0 515.1L774.9 516.0L776.0 516.5L777.1 517.0L779.0 517.7L781.0 517.8L783.0 517.3L784.0 516.9L786.0 516.3L788.0 516.3L790.0 517.0L791.0 517.6L792.0 518.2L793.0 519.0L794.3 520.0L795.7 521.0L797.0 521.9L798.0 522.5L799.2 523.0L801.0 523.7L802.4 524.0L804.0 524.2L806.0 524.1L807.0 523.8L808.4 523.0L809.5 522.0L810.3 521.0L811.1 520.0L812.0 518.5L812.9 517.0L813.6 516.0L814.5 515.0L815.6 514.0L817.0 513.4L819.0 513.3L821.0 513.7L822.4 514.0L824.0 514.2L826.0 514.0L827.0 513.6L828.0 513.0L829.2 512.0L830.3 511.0L831.4 510.0L832.7 509.0L834.0 508.3L835.0 508.0L837.0 507.8L839.0 507.9L840.0 508.1L842.0 508.5L844.0 508.8L846.0 508.9L848.0 508.8L850.0 508.5L852.0 508.1L853.0 507.8L855.0 507.3L856.0 506.9L858.0 506.1L859.0 505.6L860.0 504.9L861.5 504.0L863.0 503.2L864.0 502.9L866.0 502.6L868.0 502.6L870.0 502.7L872.0 502.2L873.0 501.5L874.0 500.5L875.0 499.0L875.6 498.0L876.2 497.0L877.0 495.6L878.0 494.4L879.0 493.5L880.0 492.9L882.0 492.6L883.7 493.0L885.0 493.5L886.2 494.0L888.0 494.9L889.0 495.5L890.1 496.0L892.0 496.8L893.0 497.1L895.0 497.2L896.2 497.0L898.0 496.5M742.4 559.0L743.0 557.2L743.3 556.0L743.8 554.0L744.1 553.0L744.7 551.0L745.0 549.9L745.6 548.0L746.0 546.6L746.5 545.0L747.0 543.6L747.6 542.0L748.0 540.5L748.4 539.0L748.8 537.0L749.0 535.0L749.0 534.0L749.2 532.0L749.4 530.0L750.0 528.0L750.5 527.0L751.1 526.0L752.1 525.0L753.5 524.0L755.0 523.4L757.0 523.0L758.0 523.0L760.0 523.0L762.0 523.0L764.0 522.9L766.0 522.9L767.0 523.0L769.0 523.8L770.0 524.5L771.0 525.5L772.0 526.8L772.9 528.0L773.5 529.0L774.2 530.0L775.0 531.0L776.0 532.1L777.0 533.2L778.0 534.1L779.2 535.0L780.9 536.0L782.0 536.4L784.0 536.6L785.9 536.0L787.0 535.3L788.0 534.5L789.0 533.6L790.0 532.8L791.5 532.0L793.0 531.7L795.0 531.8L796.5 532.0L798.0 532.2L800.0 532.5L802.0 532.7L804.0 532.8L806.0 532.8L808.0 532.5L809.2 532.0L810.8 531.0L811.9 530.0L812.7 529.0L813.4 528.0L814.0 527.0L815.0 525.2L815.8 524.0L816.5 523.0L817.5 522.0L819.0 521.1L820.0 520.8L822.0 521.0L823.0 521.2L825.0 521.5L827.0 521.6L828.5 521.0L829.9 520.0L830.9 519.0L831.8 518.0L832.8 517.0L833.8 516.0L835.0 515.1L836.0 514.6L838.0 514.1L840.0 514.2L842.0 514.5L844.0 514.9L845.0 515.1L847.0 515.4L849.0 515.6L851.0 515.6L853.0 515.4L855.0 515.2L856.6 515.0L858.0 514.8L860.0 514.3L861.0 513.9L863.0 513.0L864.0 512.6L866.0 512.1L868.0 512.3L869.8 513.0L871.0 513.7L872.0 514.3L873.1 515.0L875.0 516.0L876.0 516.1L877.0 515.5L877.7 514.0L878.0 513.0L878.5 511.0L878.9 509.0L879.1 508.0L879.7 506.0L880.1 505.0L881.0 503.4L882.0 502.6L884.0 502.4L885.4 503.0L886.7 504.0L887.7 505.0L888.5 506.0L889.1 507.0L890.0 508.9L890.4 510.0L890.9 512.0L891.1 513.0L891.5 515.0L891.8 517.0L892.0 518.1L892.4 520.0L892.9 522.0L893.3 523.0L894.0 524.9L894.5 526.0L895.0 527.0L896.0 528.6L897.0 529.8L898.0 530.8L899.0 531.5M704.5 559.0L705.9 558.0L707.0 557.2L708.0 556.4L709.0 555.6L710.0 554.9L711.3 554.0L713.0 553.3L714.8 553.0L716.0 553.0L718.0 552.9L720.0 552.5L721.2 552.0L723.0 551.2L724.0 550.9L726.0 550.9L727.0 551.3L728.2 552.0L729.4 553.0L730.5 554.0L731.4 555.0L732.3 556.0L733.2 557.0L734.0 558.0M751.7 559.0L752.2 558.0L753.0 556.7L754.0 555.4L755.0 554.3L756.0 553.3L757.0 552.4L758.0 551.6L759.0 550.9L760.7 550.0L762.0 549.5L763.5 549.0L765.0 548.6L766.8 548.0L768.0 547.5L769.0 546.9L770.3 546.0L771.6 545.0L773.0 544.0L774.0 543.6L776.0 543.2L778.0 543.5L779.9 544.0L781.0 544.4L783.0 545.0L784.0 545.1L786.0 545.1L787.0 544.9L788.8 544.0L790.0 543.1L791.0 542.4L792.0 541.7L793.1 541.0L795.0 540.2L796.0 540.0L798.0 539.8L800.0 539.8L802.0 539.8L804.0 539.9L806.0 539.9L808.0 539.9L810.0 539.7L811.8 539.0L813.0 538.2L814.0 537.2L815.0 536.0L815.7 535.0L816.3 534.0L817.0 532.9L818.0 531.4L819.0 530.2L820.0 529.4L821.0 528.9L823.0 528.8L824.2 529.0L826.0 529.5L827.7 530.0L829.0 530.1L830.0 530.0L831.6 529.0L832.5 528.0L833.2 527.0L834.0 525.9L835.0 524.5L836.0 523.4L837.0 522.5L838.0 521.9L840.0 521.4L842.0 521.5L843.9 522.0L845.0 522.3L846.9 523.0L848.0 523.4L850.0 523.9L851.0 524.2L853.0 524.6L855.0 525.0L856.0 525.2L858.0 525.7L859.0 526.0L861.0 526.6L862.3 527.0L864.0 527.4L866.0 527.7L867.4 528.0L869.0 528.6L870.0 529.3L871.0 530.1L872.0 531.2L873.0 532.6L873.9 534.0L874.5 535.0L875.2 536.0L876.0 537.3L877.0 538.8L878.0 539.9L879.0 540.9L880.0 541.7L881.0 542.3L883.0 543.0L884.0 543.0L885.0 542.8L886.5 542.0L887.7 541.0L888.8 540.0L890.0 539.1L891.0 538.7L893.0 538.9L894.0 539.2L896.0 539.9L897.0 540.2L899.0 540.7M842.7 559.0L842.7 557.0L842.5 555.0L842.2 553.0L841.9 552.0L841.3 550.0L840.9 549.0L840.2 547.0L839.8 546.0L839.1 544.0L838.8 543.0L838.4 541.0L838.2 539.0L838.4 537.0L838.9 535.0L839.3 534.0L840.0 533.0L841.6 532.0L843.0 531.9L844.0 532.3L845.3 533.0L846.5 534.0L847.5 535.0L848.2 536.0L849.0 537.3L849.7 539.0L850.0 540.1L850.4 542.0L850.6 544.0L850.8 546.0L851.0 547.1L851.4 549.0L852.0 550.6L852.8 552.0L853.5 553.0L854.5 554.0L855.8 555.0L857.0 555.6L858.8 556.0L860.0 556.1L861.4 556.0L863.0 555.9L865.0 555.7L867.0 555.5L869.0 555.2L870.3 555.0L872.0 554.6L873.8 554.0L875.0 553.6L877.0 553.0L878.0 552.8L880.0 552.5L882.0 552.4L884.0 552.3L886.0 552.0L887.0 551.7L888.5 551.0L890.0 550.1L891.0 549.3L892.0 548.6L893.1 548.0L895.0 547.3L897.0 547.1L899.0 547.1M769.6 559.0L770.9 558.0L771.9 557.0L772.8 556.0L773.6 555.0L774.5 554.0L775.6 553.0L777.0 552.1L778.0 551.9L780.0 552.0L781.0 552.2L782.9 553.0L784.0 553.5L785.2 554.0L787.0 554.5L789.0 554.5L790.0 554.0L791.2 553.0L792.2 552.0L793.1 551.0L794.1 550.0L795.3 549.0L797.0 548.1L798.0 547.8L800.0 547.4L802.0 547.4L804.0 547.5L806.0 547.7L807.4 548.0L809.0 548.4L811.0 548.9L813.0 548.9L815.0 548.0L816.0 547.0L816.7 546.0L817.3 545.0L818.0 543.8L819.0 542.0L819.6 541.0L820.3 540.0L821.1 539.0L822.9 538.0L824.0 538.0L825.0 538.3L826.2 539.0L827.4 540.0L828.3 541.0L829.0 542.0L830.0 543.6L830.7 545.0L831.0 546.0L831.7 548.0L832.0 549.1L832.5 551.0L833.0 553.0L833.3 554.0L833.8 556.0L834.1 557.0L834.8 559.0M885.1 559.0L887.0 558.6L888.8 558.0L890.0 557.4L891.0 556.7L892.0 556.0L893.2 555.0L894.8 554.0L896.0 553.4L897.4 553.0L899.0 552.7" fill="none" stroke="#eef2f5" stroke-width="1.2" stroke-opacity="0.85" clip-path="url(#wc)"/>
<defs><filter id="blr" x="-50%" y="-50%" width="200%" height="200%"><feGaussianBlur stdDeviation="10"/></filter><filter id="blr2" x="-100%" y="-50%" width="300%" height="200%"><feGaussianBlur stdDeviation="4 10"/></filter><radialGradient id="refl" cx="0.4" cy="0.5" r="0.6"><stop offset="0" stop-color="#6f7a80" stop-opacity="0.9"/><stop offset="0.6" stop-color="#7b878e" stop-opacity="0.6"/><stop offset="1" stop-color="#8a969e" stop-opacity="0"/></radialGradient></defs>
<g clip-path="url(#wc)"><ellipse cx="690" cy="488" rx="85" ry="30" fill="#5f6d73" opacity="0.75" filter="url(#blr)" transform="rotate(-32 690 488)"/><rect x="764" y="435" width="12" height="80" fill="#e8eef2" opacity="0.3" filter="url(#blr2)"/></g>
<path d="M806 403L859.5 436L891 447" fill="none" stroke="#f4f7f9" stroke-width="1.3"/>
<clipPath id="dc"><polygon points="603.0,521.0 892.0,552.0 892.0,600.0 857.0,600.0 850.0,595.0 767.0,580.0 693.0,565.0 653.0,543.0"/></clipPath><filter id="tex" x="0" y="0" width="100%" height="100%"><feTurbulence type="fractalNoise" baseFrequency="0.05 0.13" numOctaves="3" seed="4"/><feColorMatrix values="0 0 0 0 0.28  0 0 0 0 0.36  0 0 0 0 0.27  0 0 0 2.2 -1.0"/></filter><g clip-path="url(#dc)"><rect x="600" y="515" width="300" height="90" filter="url(#tex)" opacity="0.55"/><path d="M783.5 515.0L785.0 515.8L786.2 516.0L787.4 516.0L789.0 515.7L790.7 515.0M861.6 515.0L863.0 515.5L865.0 515.7L867.0 515.4L868.3 515.0M881.4 515.0L883.0 515.6L884.0 516.0L886.0 516.6L887.9 517.0L889.0 517.1L891.0 517.4L893.0 517.5L895.0 517.6L897.0 517.7L899.0 517.8M773.8 515.0L774.3 516.0L775.0 517.6L775.6 519.0L776.0 520.0L777.0 521.8L778.0 522.9L779.0 523.5L781.0 524.0L782.0 524.0L783.0 524.0L785.0 523.6L787.0 523.0L788.0 522.7L789.7 522.0L791.0 521.5L792.1 521.0L794.0 520.2L795.0 519.8L797.0 519.1L798.0 518.7L800.0 518.1L801.0 517.8L803.0 517.4L805.0 517.2L807.0 517.1L809.0 517.3L811.0 517.7L812.4 518.0L814.0 518.4L816.0 518.9L817.0 519.2L819.0 519.5L821.0 519.3L822.0 519.0L823.9 518.0L825.0 517.3L826.0 516.6L827.0 515.8L828.1 515.0M844.7 515.0L845.2 516.0L845.0 517.3L844.1 519.0L843.5 520.0L843.2 522.0L844.0 523.3L845.0 524.1L846.7 525.0L848.0 525.5L849.2 526.0L851.0 526.6L852.3 527.0L854.0 527.5L856.0 527.9L857.0 528.2L859.0 528.5L861.0 528.9L862.0 529.0L864.0 529.3L866.0 529.6L868.0 529.9L869.0 530.1L871.0 530.5L873.0 530.9L874.0 531.2L876.0 531.8L877.0 532.2L878.3 533.0L879.2 534.0L880.0 535.7L880.2 537.0L880.3 539.0L880.5 541.0L880.9 543.0L881.2 544.0L882.0 545.4L883.0 546.4L884.0 547.1L886.0 547.9L887.0 548.2L889.0 548.5L891.0 548.7L893.0 548.9L894.8 549.0L896.0 549.1L898.0 549.2M899.0 531.8L897.0 531.9L895.0 531.8L893.0 531.7L891.0 531.4L889.0 531.0L888.0 530.8L886.1 530.0L885.0 529.3L884.0 528.1L883.5 527.0L883.3 525.0L884.0 523.6L885.0 522.7L886.4 522.0L888.0 521.5L890.0 521.1L891.0 521.0L893.0 520.8L895.0 520.7L897.0 520.6L899.0 520.7M859.1 549.0L861.0 548.1L861.6 547.0L861.2 545.0L860.4 544.0L859.1 543.0L858.0 542.5L857.0 542.0L855.0 541.4L853.0 541.1L851.0 541.1L849.0 542.0L848.7 543.0L849.0 544.1L850.0 545.4L851.0 546.3L852.0 547.1L853.7 548.0L855.0 548.5L856.9 549.0L858.0 549.1L859.1 549.0M726.4 515.0L728.0 515.9L729.0 516.3L730.9 517.0L732.0 517.3L734.0 517.7L735.7 518.0L737.0 518.1L739.0 518.3L741.0 518.3L743.0 518.2L744.5 518.0L746.0 517.7L747.9 517.0L749.0 516.4L750.0 515.8L751.0 515.0M765.0 515.0L766.0 516.7L766.4 518.0L766.6 520.0L766.4 522.0L766.5 524.0L767.0 525.1L768.0 526.2L769.2 527.0L771.0 527.9L772.0 528.3L774.0 528.9L775.0 529.2L777.0 529.6L779.0 529.9L780.0 530.0L782.0 530.1L784.0 530.0L785.0 529.9L787.0 529.5L788.7 529.0L790.0 528.4L791.0 527.9L792.5 527.0L794.0 526.1L795.0 525.5L796.0 525.0L798.0 524.2L799.0 523.9L801.0 523.6L803.0 523.6L804.8 524.0L806.0 524.4L807.1 525.0L808.6 526.0L809.9 527.0L811.0 527.9L812.0 528.6L813.0 529.3L814.4 530.0L816.0 530.7L817.0 531.1L819.0 531.9L820.0 532.3L821.4 533.0L822.9 534.0L823.8 535.0L824.3 536.0L824.7 538.0L824.6 540.0L824.0 541.5L823.0 542.8L822.0 543.6L821.0 544.2L819.6 545.0L818.0 545.9L817.0 546.5L816.0 547.1L815.0 548.0L814.0 549.2L813.6 551.0L814.1 552.0L815.6 553.0L817.0 553.4L819.0 553.6L821.0 553.6L823.0 553.4L825.0 553.0L826.0 552.7L828.0 552.1L829.0 551.7L831.0 551.0L832.0 550.6L834.0 550.1L835.0 550.0L837.0 549.9L838.0 550.0L840.0 550.4L842.0 551.0L843.0 551.4L844.2 552.0L846.0 553.0L847.0 553.7L848.0 554.4L849.0 555.1L850.1 556.0L851.6 557.0L853.0 557.8L854.0 558.3L856.0 559.0L857.0 559.2L859.0 559.6L861.0 559.8L863.0 559.9L865.0 559.7L867.0 559.4L868.5 559.0L870.0 558.6L872.0 558.0L873.0 557.7L875.0 557.2L876.0 556.9L878.0 556.5L880.0 556.2L881.6 556.0L883.0 555.9L885.0 555.9L887.0 556.0L888.0 556.1L890.0 556.5L891.9 557.0L893.0 557.4L894.4 558.0L896.0 558.7L897.0 559.1L899.0 559.6M899.0 527.4L897.0 527.3L895.8 527.0L894.5 526.0L895.0 525.0L897.0 524.4L899.0 524.3M671.9 515.0L673.0 515.8L674.0 516.5L675.0 517.2L676.4 518.0L678.0 519.0L679.0 519.5L680.0 520.1L681.6 521.0L683.0 521.7L684.0 522.2L685.7 523.0L687.0 523.5L688.4 524.0L690.0 524.5L692.0 524.9L693.0 525.0L695.0 525.3L697.0 525.5L699.0 525.7L701.0 526.0L702.0 526.1L704.0 526.4L706.0 526.7L707.9 527.0L709.0 527.1L711.0 527.4L713.0 527.6L715.0 527.8L717.0 528.0L718.0 528.1L720.0 528.2L722.0 528.3L724.0 528.5L726.0 528.7L727.6 529.0L729.0 529.6L730.0 530.3L731.0 531.2L732.0 532.1L733.6 533.0L735.0 533.5L737.0 533.9L738.7 534.0L739.5 534.0L741.0 533.9L743.0 533.8L745.0 533.5L747.0 533.2L748.3 533.0L750.0 532.7L752.0 532.3L753.3 532.0L755.0 531.7L757.0 531.4L759.0 531.3L761.0 531.4L763.0 531.6L765.0 531.9L766.0 532.2L768.0 532.7L769.1 533.0L771.0 533.7L772.0 534.1L773.9 535.0L775.0 535.8L776.0 536.7L777.0 537.8L778.0 538.8L779.0 539.6L780.0 540.1L782.0 540.9L783.0 541.1L785.0 541.6L786.9 542.0L788.0 542.2L790.0 542.5L792.0 542.9L793.0 543.0L795.0 543.4L797.0 543.8L798.0 544.0L800.0 544.6L801.0 545.0L802.4 546.0L803.1 547.0L803.6 549.0L804.0 551.0L804.3 552.0L805.0 553.4L806.0 554.5L807.0 555.3L808.1 556.0L810.0 556.8L811.0 557.1L813.0 557.5L815.0 557.7L817.0 557.8L819.0 557.8L821.0 557.7L823.0 557.5L825.0 557.3L826.9 557.0L828.0 556.9L830.0 556.6L832.0 556.5L834.0 556.4L836.0 556.5L838.0 556.8L839.0 557.1L841.0 557.9L842.0 558.4L843.0 559.0L844.5 560.0L845.9 561.0L847.0 561.7L848.0 562.4L849.0 563.0L850.6 564.0L852.0 564.9L853.0 565.6L854.0 566.5L855.0 567.6L856.0 569.0L856.6 570.0L857.2 571.0L858.0 572.2L859.0 573.4L860.0 574.2L861.7 575.0L863.0 575.4L865.0 575.6L867.0 575.5L869.0 575.2L870.0 575.0L872.0 574.4L873.0 574.0L875.0 573.1L876.0 572.6L877.0 572.0L878.7 571.0L880.0 570.2L881.0 569.5L882.0 569.0L883.9 568.0L885.0 567.5L886.7 567.0L888.0 566.7L890.0 566.5L892.0 566.5L894.0 566.6L896.0 566.7L898.0 566.8M612.0 515.0L613.0 516.3L614.0 517.4L615.0 518.2L616.4 519.0L618.0 519.7L619.0 520.1L621.0 520.8L622.0 521.2L624.0 521.8L625.0 522.1L627.0 522.8L628.0 523.1L630.0 523.7L631.0 524.0L633.0 524.5L635.0 524.9L636.0 525.1L638.0 525.4L640.0 525.7L642.0 525.9L643.0 526.0L645.0 526.2L647.0 526.3L649.0 526.4L651.0 526.4L653.0 526.5L655.0 526.6L657.0 526.8L659.0 526.9L660.4 527.0L662.0 527.0L664.0 527.1L666.0 527.2L668.0 527.6L669.4 528.0L671.0 528.7L672.0 529.4L673.0 530.4L674.0 531.8L674.7 533.0L675.5 534.0L676.8 535.0L678.0 535.5L679.1 536.0L681.0 536.5L683.0 537.0L684.0 537.2L686.0 537.6L688.0 537.9L689.0 538.1L691.0 538.4L693.0 538.6L695.0 538.8L697.0 538.9L699.0 538.7L700.8 538.0L701.7 537.0L702.4 536.0L703.2 535.0L704.4 534.0L706.0 533.3L707.1 533.0L709.0 532.8L711.0 532.7L713.0 532.9L714.0 533.0L716.0 533.6L717.2 534.0L718.6 535.0L719.4 536.0L719.7 538.0L719.0 539.2L717.9 540.0L716.0 540.7L714.6 541.0L713.0 541.3L711.0 541.6L709.1 542.0L708.0 542.5L707.1 544.0L708.0 545.9L709.0 546.8L710.0 547.3L711.5 548.0L713.0 548.4L715.0 548.9L716.0 549.1L718.0 549.4L720.0 549.6L722.0 549.8L724.0 549.9L726.0 549.9L728.0 549.8L730.0 549.5L732.0 549.1L733.0 548.7L734.9 548.0L736.0 547.4L737.0 546.9L738.9 546.0L740.0 545.7L742.0 545.8L743.0 546.3L744.0 547.3L745.0 548.4L746.0 549.5L747.0 550.5L748.0 551.4L749.0 552.3L750.0 553.2L751.0 554.0L752.4 555.0L753.8 556.0L755.0 556.7L756.0 557.2L757.9 558.0L759.0 558.4L761.0 558.8L763.0 558.9L765.0 558.9L767.0 558.8L769.0 558.5L771.0 558.2L772.4 558.0L774.0 557.7L776.0 557.2L777.0 556.9L778.6 556.0L779.7 555.0L780.5 554.0L781.2 553.0L782.0 552.0L783.1 551.0L785.0 550.0L786.0 549.8L788.0 549.7L790.0 550.0L791.0 550.4L792.0 551.1L793.0 552.4L793.6 554.0L793.8 556.0L793.0 557.8L792.0 558.4L790.6 559.0L789.0 559.5L787.2 560.0L786.0 560.4L784.9 561.0L783.7 562.0L782.9 563.0L782.3 565.0L782.7 567.0L783.4 568.0L784.6 569.0L786.0 569.8L787.0 570.3L788.7 571.0L790.0 571.4L791.8 572.0L793.0 572.3L795.0 572.8L796.0 573.0L798.0 573.4L800.0 573.7L802.0 573.9L803.1 574.0L805.0 574.1L806.9 574.0L808.0 573.9L810.0 573.7L812.0 573.3L813.2 573.0L815.0 572.4L816.2 572.0L818.0 571.0L818.9 570.0L818.4 568.0L817.5 567.0L816.5 566.0L815.7 565.0L816.0 563.7L817.0 563.0L819.0 562.4L820.4 562.0L822.0 561.7L824.0 561.3L825.7 561.0L827.0 560.9L829.0 560.7L831.0 560.7L833.0 560.9L834.0 561.1L836.0 561.7L837.0 562.2L838.4 563.0L839.9 564.0L841.0 564.8L842.0 565.6L843.0 566.4L844.0 567.2L845.0 568.1L846.0 569.2L847.0 570.6L847.6 572.0L847.6 574.0L847.0 575.1L846.0 576.0L844.0 576.7L842.0 577.0L841.0 577.0L839.0 577.1L837.0 577.2L835.0 577.6L834.0 578.0L833.0 579.2L833.0 580.1L834.0 581.6L835.0 582.4L836.0 583.1L837.7 584.0L839.0 584.7L840.0 585.3L841.2 586.0L842.5 587.0L843.6 588.0L844.5 589.0L845.4 590.0L846.2 591.0L847.4 592.0L849.0 592.6L851.0 592.5L852.9 592.0L854.0 591.4L855.0 590.7L856.0 589.6L857.0 588.0L857.5 587.0L858.2 586.0L859.1 585.0L860.4 584.0L862.0 583.1L863.0 582.7L864.9 582.0L866.0 581.6L867.9 581.0L869.0 580.6L870.8 580.0L872.0 579.5L873.3 579.0L875.0 578.2L876.0 577.7L877.3 577.0L878.9 576.0L880.0 575.4L881.0 574.7L882.2 574.0L884.0 573.1L885.0 572.6L886.4 572.0L888.0 571.5L890.0 571.0L891.0 570.8L893.0 570.6L895.0 570.5L897.0 570.5L899.0 570.5M600.0 516.9L601.0 517.9L602.0 518.9L603.0 519.8L604.0 520.4L605.0 521.0L606.9 522.0L608.0 522.5L609.2 523.0L611.0 523.8L612.0 524.2L613.7 525.0L615.0 525.7L616.0 526.1L617.9 527.0L619.0 527.4L621.0 527.9L622.0 528.0L624.0 528.2L626.0 528.4L628.0 528.5L630.0 528.7L632.0 528.9L633.0 529.1L635.0 529.4L637.0 529.8L638.0 530.0L640.0 530.7L641.0 531.1L642.8 532.0L644.0 532.9L645.0 533.9L645.9 535.0L646.7 536.0L647.5 537.0L648.4 538.0L649.5 539.0L650.8 540.0L652.0 541.0L653.0 541.8L654.0 542.8L655.0 543.7L656.0 544.7L657.0 545.6L658.0 546.3L659.5 547.0L661.0 547.3L663.0 547.3L664.2 547.0L666.0 546.4L667.0 545.9L668.7 545.0L670.0 544.3L671.0 543.7L672.5 543.0L674.0 542.4L675.4 542.0L677.0 541.7L679.0 541.5L681.0 541.5L683.0 541.6L685.0 541.9L686.0 542.1L688.0 542.6L689.1 543.0L691.0 543.8L692.0 544.4L693.0 545.1L694.0 546.1L695.0 547.4L695.8 549.0L696.3 550.0L697.0 551.2L698.0 552.3L699.0 553.1L701.0 553.9L702.0 554.1L704.0 554.4L706.0 554.6L708.0 554.7L710.0 554.9L711.8 555.0L713.0 555.1L715.0 555.3L717.0 555.4L719.0 555.6L721.0 555.7L723.0 555.7L725.0 555.8L727.0 555.8L729.0 555.9L731.0 555.9L733.0 556.0L734.0 556.1L736.0 556.3L738.0 556.7L739.0 557.0L741.0 558.0L742.0 558.7L743.0 559.7L744.0 560.9L744.7 562.0L745.3 563.0L746.0 564.6L746.5 566.0L746.6 568.0L746.3 570.0L747.0 571.4L749.0 571.6L751.0 571.3L752.6 571.0L754.0 570.7L756.0 570.4L758.0 570.2L760.0 570.1L762.0 570.0L763.0 570.0L765.0 570.0L766.0 570.0L768.0 570.2L770.0 570.5L772.0 571.0L773.0 571.3L775.0 571.9L776.0 572.2L778.0 572.8L779.0 573.1L781.0 573.6L782.8 574.0L784.0 574.3L786.0 574.7L787.6 575.0L789.0 575.3L791.0 575.7L792.3 576.0L794.0 576.4L796.0 576.8L797.0 577.1L799.0 577.6L800.8 578.0L802.0 578.3L804.0 578.8L805.2 579.0L807.0 579.4L809.0 579.8L810.1 580.0L812.0 580.4L814.0 580.8L815.0 581.1L817.0 581.9L818.0 582.4L819.0 583.1L820.4 584.0L821.8 585.0L823.0 585.8L824.0 586.5L825.0 587.1L826.6 588.0L828.0 588.7L829.0 589.3L830.3 590.0L831.8 591.0L833.0 592.0L833.9 593.0L834.5 594.0L835.0 595.1L835.3 597.0L835.2 599.0L835.0 601.0L835.3 603.0M899.0 585.5L897.0 585.7L895.0 585.3L894.0 585.0L892.0 584.3L891.0 583.9L889.0 583.1L888.0 582.6L887.0 582.0L886.0 580.8L885.9 579.0L886.5 578.0L887.4 577.0L888.7 576.0L890.0 575.4L891.0 574.9L893.0 574.4L895.0 574.1L896.0 574.0L898.0 573.9M846.5 604.0L847.2 603.0L848.1 602.0L849.1 601.0L850.5 600.0L852.0 599.2L853.0 598.7L854.9 598.0L856.0 597.6L858.0 597.0L859.0 596.8L861.0 596.4L863.0 596.0L864.0 595.9L866.0 595.7L868.0 595.7L870.0 595.8L871.5 596.0L873.0 596.2L875.0 596.6L877.0 596.9L878.0 597.0L879.9 597.0L881.0 596.9L883.0 596.7L885.0 596.4L887.0 596.0L888.0 595.8L890.0 595.4L892.0 595.1L893.0 594.9L895.0 594.5L897.0 594.4L899.0 594.6M600.0 532.3L601.0 533.8L602.0 534.6L603.0 535.3L604.0 536.0L605.7 537.0L607.0 537.9L608.0 538.7L609.0 539.9L609.2 541.0L608.9 542.0L608.0 543.1L606.7 544.0L605.0 544.8L604.0 545.1L602.0 545.6L600.0 545.9M631.0 538.4L629.0 538.9L627.0 538.5L625.8 538.0L625.8 536.0L627.0 535.4L628.7 535.0L629.3 535.0L631.0 535.5L632.0 537.0L632.0 537.0L631.0 538.4M600.0 556.0L602.0 555.9L604.0 555.5L605.4 555.0L607.0 554.2L608.0 553.6L609.1 553.0L611.0 552.1L612.0 551.7L614.0 551.2L616.0 551.0L617.0 551.0L618.1 551.0L620.0 551.1L622.0 551.3L624.0 551.6L626.0 552.0L627.0 552.2L628.8 552.0L629.2 551.0L629.7 549.0L630.0 548.0L630.9 546.0L631.5 545.0L632.2 544.0L633.6 543.0L635.0 542.6L637.0 542.5L639.0 542.7L640.4 543.0L642.0 543.4L643.9 544.0L645.0 544.5L646.0 545.0L647.3 546.0L648.1 547.0L648.8 549.0L648.1 551.0L647.2 552.0L646.0 552.8L645.0 553.3L643.0 553.9L642.0 554.0L640.0 554.2L638.0 554.1L636.8 554.0L635.0 553.8L633.0 553.5L631.0 553.1L630.0 553.0L629.0 553.9L628.9 555.0L628.7 557.0L628.4 559.0L628.3 561.0L629.0 562.6L630.0 563.4L631.4 564.0L633.0 564.4L635.0 564.6L637.0 564.7L639.0 564.6L641.0 564.1L642.0 563.6L643.0 562.6L644.0 561.4L645.0 560.6L646.0 559.9L648.0 559.1L649.0 558.8L651.0 558.3L652.4 558.0L654.0 557.7L656.0 557.2L657.0 556.9L659.0 556.2L660.0 555.8L661.7 555.0L663.0 554.4L664.0 553.8L665.6 553.0L667.0 552.3L668.0 551.7L669.4 551.0L671.0 550.1L672.0 549.6L673.2 549.0L675.0 548.1L676.0 547.7L678.0 547.0L679.0 546.8L681.0 546.7L683.0 547.0L684.0 547.4L685.0 548.1L686.0 549.2L686.7 551.0L687.0 552.3L687.2 554.0L687.4 556.0L687.3 558.0L687.0 559.3L686.0 560.9L685.0 561.5L683.0 562.0L682.0 562.1L680.0 562.3L678.0 562.4L676.0 562.5L674.0 562.6L672.0 562.8L670.0 563.0L669.0 563.1L667.0 563.5L665.1 564.0L664.0 564.3L662.3 565.0L661.0 565.6L660.0 566.1L658.5 567.0L657.0 568.0L656.0 569.0L655.6 570.0L656.0 571.1L657.0 572.1L658.6 573.0L660.0 573.5L661.6 574.0L663.0 574.3L665.0 574.7L666.9 575.0L668.0 575.2L670.0 575.5L672.0 576.0L673.0 576.3L675.0 577.0L676.0 577.5L677.0 578.0L678.7 579.0L680.0 579.7L681.0 580.2L682.9 581.0L684.0 581.3L686.0 581.8L687.4 582.0L689.0 582.1L691.0 582.1L692.0 581.9L694.0 581.5L695.5 581.0L697.0 580.0L697.5 579.0L697.0 577.7L696.0 576.8L694.9 576.0L693.2 575.0L692.0 574.4L691.0 573.8L689.8 573.0L688.5 572.0L687.7 571.0L687.0 569.5L686.8 568.0L687.0 566.5L687.6 565.0L688.4 564.0L690.0 563.2L691.0 563.0L693.0 562.7L695.0 562.5L697.0 562.3L699.0 562.2L701.0 562.1L702.5 562.0L704.0 562.0L706.0 562.0L707.6 562.0L709.0 562.1L711.0 562.2L713.0 562.3L715.0 562.4L717.0 562.5L719.0 562.6L721.0 562.7L723.0 562.9L724.0 563.0L726.0 563.5L727.5 564.0L729.0 565.0L729.8 566.0L730.2 567.0L730.3 569.0L730.0 570.5L729.5 572.0L729.0 573.9L728.8 575.0L729.0 576.2L730.0 578.0L731.0 578.9L732.0 579.6L733.0 580.2L734.7 581.0L736.0 581.4L738.0 582.0L739.0 582.2L741.0 582.6L743.0 582.8L744.8 583.0L746.0 583.1L748.0 583.3L750.0 583.4L752.0 583.5L754.0 583.5L756.0 583.3L757.0 583.0L758.9 582.0L760.0 581.3L761.0 580.7L762.1 580.0L764.0 579.4L765.9 579.0L767.0 579.0L768.0 579.1L770.0 579.5L772.0 580.0L773.0 580.4L775.0 580.9L777.0 581.0L777.0 581.0L779.0 580.9L781.0 580.7L783.0 580.6L785.0 580.6L787.0 580.7L789.0 581.0L790.0 581.3L792.0 581.9L793.0 582.3L794.4 583.0L795.9 584.0L796.9 585.0L797.7 586.0L798.0 587.0L798.0 588.2L797.3 590.0L796.7 591.0L796.0 592.1L795.0 593.6L794.0 594.5L793.0 595.1L791.0 595.6L789.3 596.0L788.0 596.4L787.0 597.3L786.2 599.0L786.0 600.0L786.0 601.0L786.9 603.0L787.9 604.0M784.5 593.0L785.6 592.0L785.1 590.0L784.3 589.0L783.3 588.0L782.1 587.0L781.0 586.1L780.0 585.4L779.0 584.8L777.6 584.0L776.0 583.2L775.0 583.0L773.0 582.9L772.0 583.0L770.0 583.3L768.0 583.7L766.3 584.0L765.0 584.2L763.0 584.6L761.5 585.0L760.0 585.8L759.4 587.0L760.0 588.1L761.7 589.0L763.0 589.3L765.0 589.7L766.1 590.0L768.0 590.3L770.0 590.8L771.0 591.0L773.0 591.4L775.0 591.9L776.0 592.1L778.0 592.5L780.0 592.9L781.0 593.1L783.0 593.2L784.5 593.0M803.6 604.0L805.0 603.0L806.0 602.3L807.0 601.6L808.1 601.0L810.0 600.3L811.1 600.0L813.0 599.6L815.0 599.4L817.0 599.2L819.0 599.3L821.0 599.5L823.0 600.0L824.0 600.5L825.0 601.1L826.0 602.1L827.0 603.5M883.6 604.0L885.0 603.0L886.0 602.4L887.0 601.9L889.0 601.1L890.0 600.8L892.0 600.3L893.7 600.0L895.0 599.8L897.0 599.7L899.0 599.7M853.8 604.0L854.6 603.0L856.0 602.0L857.0 601.6L858.7 601.0L860.0 600.8L862.0 600.6L864.0 600.8L865.3 601.0L867.0 601.6L868.0 602.0L869.6 603.0L870.8 604.0M600.0 561.0L601.0 561.0L603.0 561.1L605.0 561.1L607.0 561.2L609.0 561.4L611.0 561.8L612.0 562.1L613.4 563.0L614.6 564.0L615.6 565.0L616.8 566.0L618.0 566.8L619.0 567.4L620.4 568.0L622.0 568.5L624.0 569.0L625.0 569.1L627.0 569.4L629.0 569.7L631.0 570.0L632.0 570.1L634.0 570.4L636.0 570.8L637.0 571.1L639.0 571.7L640.0 572.0L642.0 572.8L643.0 573.3L644.5 574.0L646.0 574.8L647.0 575.4L648.2 576.0L650.0 576.9L651.0 577.4L652.6 578.0L654.0 578.5L655.9 579.0L657.0 579.2L659.0 579.6L661.0 579.8L662.3 580.0L664.0 580.2L666.0 580.5L668.0 580.9L669.0 581.1L671.0 581.7L672.0 582.0L674.0 582.7L675.0 583.0L677.0 583.7L678.0 584.0L680.0 584.6L681.6 585.0L683.0 585.3L685.0 585.7L686.6 586.0L688.0 586.2L690.0 586.4L692.0 586.4L694.0 586.4L696.0 586.2L697.1 586.0L699.0 585.6L701.0 585.0L702.0 584.7L704.0 584.0L705.0 583.6L706.6 583.0L708.0 582.5L709.4 582.0L711.0 581.5L713.0 581.2L715.0 581.0L717.0 581.2L719.0 581.6L720.2 582.0L722.0 582.6L723.0 583.1L724.9 584.0L726.0 584.5L727.0 585.1L728.7 586.0L730.0 586.8L731.0 587.5L732.0 588.3L733.0 589.7L733.2 591.0L732.8 592.0L732.0 593.1L730.9 594.0L729.0 595.0L728.0 595.5L726.9 596.0L726.0 597.0L727.0 597.3L729.0 597.1L730.0 596.7L732.0 596.2L734.0 596.1L736.0 596.1L738.0 596.2L740.0 596.5L742.0 596.9L743.0 597.1L745.0 597.6L746.6 598.0L748.0 598.4L750.0 598.9L751.0 599.2L753.0 599.7L754.7 600.0L756.0 600.2L758.0 600.3L760.0 600.2L761.8 600.0L763.0 599.9L765.0 599.7L767.0 599.8L768.6 600.0L770.0 600.4L771.5 601.0L773.0 601.9L774.0 602.8L775.0 603.9M713.0 573.2L711.0 573.7L709.0 573.8L707.0 573.7L705.0 573.3L703.8 573.0L702.0 572.3L701.0 571.7L700.0 570.9L699.9 569.0L701.0 568.3L702.0 567.8L704.0 567.4L706.0 567.2L708.0 567.2L710.0 567.4L712.0 567.6L713.8 568.0L715.0 568.5L716.1 569.0L716.6 571.0L715.6 572.0L714.0 572.9L713.0 573.2M600.0 565.1L602.0 565.4L604.0 565.8L605.0 566.1L607.0 566.9L608.0 567.5L609.0 568.2L610.2 569.0L611.6 570.0L613.0 570.9L614.0 571.4L615.3 572.0L617.0 572.6L618.8 573.0L620.0 573.2L622.0 573.4L624.0 573.6L626.0 573.7L628.0 573.9L629.3 574.0L631.0 574.2L633.0 574.6L634.5 575.0L636.0 575.5L637.3 576.0L639.0 576.8L640.0 577.3L641.2 578.0L642.7 579.0L644.0 579.8L645.0 580.5L646.0 581.1L647.6 582.0L649.0 582.6L650.0 583.0L652.0 583.5L654.0 583.9L655.0 584.1L657.0 584.3L659.0 584.5L661.0 584.7L663.0 584.9L664.0 585.1L666.0 585.3L668.0 585.7L669.5 586.0L671.0 586.3L673.0 586.8L674.0 587.1L676.0 587.7L677.1 588.0L679.0 588.6L680.2 589.0L682.0 589.7L683.0 590.1L685.0 590.9L686.0 591.5L687.0 592.1L688.3 593.0L689.5 594.0L690.5 595.0L691.7 596.0L693.0 596.8L694.0 597.1L696.0 597.6L698.0 597.9L699.0 598.0L701.0 598.2L703.0 598.5L705.0 598.8L706.0 599.1L708.0 599.8L709.0 600.2L710.4 601.0L711.9 602.0L713.0 602.9L714.0 604.0M736.4 604.0L738.0 603.3L739.4 603.0L741.0 602.9L742.0 603.0L744.0 603.6M633.0 586.2L631.0 586.5L629.0 586.3L627.8 586.0L627.4 584.0L628.6 583.0L630.0 582.6L632.0 582.7L633.0 583.0L634.2 584.0L634.0 585.8L633.0 586.2M600.0 585.2L602.0 585.3L604.0 585.5L606.0 585.7L608.0 585.8L609.4 586.0L611.0 586.2L613.0 586.5L615.0 586.8L616.2 587.0L618.0 587.4L619.6 588.0L620.8 589.0L621.3 590.0L622.0 591.9L622.8 593.0L624.0 593.9L625.0 594.3L626.8 595.0L628.0 595.3L630.0 595.8L631.0 596.0L633.0 596.4L635.0 596.9L636.0 597.1L638.0 597.6L639.5 598.0L641.0 598.4L643.0 598.8L644.0 599.0L646.0 599.4L648.0 599.6L650.0 599.6L652.0 599.4L654.0 599.1L655.0 599.0L657.0 598.4L658.5 598.0L660.0 597.3L661.0 596.7L661.4 595.0L660.4 594.0L659.2 593.0L658.5 592.0L659.1 591.0L661.0 590.8L663.0 590.8L664.4 591.0L666.0 591.5L667.3 592.0L668.6 593.0L669.1 594.0L669.3 596.0L670.0 597.6L670.8 599.0L671.5 600.0L672.2 601.0L673.0 602.2L674.0 603.5M600.0 589.1L602.0 589.4L604.0 589.8L605.0 590.1L606.6 591.0L607.5 592.0L607.6 594.0L607.0 595.2L606.0 596.3L605.0 597.3L604.0 598.4L604.0 599.4L605.0 600.2L607.0 600.8L608.1 601.0L610.0 601.3L612.0 601.4L614.0 601.6L616.0 601.6L618.0 601.6L620.0 601.6L622.0 601.5L624.0 601.5L626.0 601.5L628.0 601.7L630.0 601.9L631.0 602.1L633.0 602.7L634.0 603.0L636.0 604.0" fill="none" stroke="#cfdccf" stroke-width="1" stroke-opacity="0.6"/></g>
<path d="M603 521L892 552" stroke="#111" stroke-width="1.5"/>
<ellipse cx="752" cy="494" rx="2.2" ry="1.2" fill="#6b4a3a"/>
<ellipse cx="758" cy="500" rx="2.2" ry="1.2" fill="#6b4a3a"/>
<ellipse cx="830" cy="505" rx="2.2" ry="1.2" fill="#b0573a"/>
<ellipse cx="800" cy="526" rx="2.2" ry="1.2" fill="#b0573a"/>
<ellipse cx="812" cy="478" rx="2.2" ry="1.2" fill="#8a3a3a"/>
<path d="M794.7 489L892 479M786 497.3L892 484.7M782.7 505.3L892 489.5M866 481.5L892 480.5" stroke="#3a3430" stroke-width="1"/>
<rect x="794" y="487" width="8" height="4" fill="#b25a55" transform="rotate(-6 798 489)"/>
<polygon points="852,494 866,494 868,511 862,513" fill="#f3f3f3" stroke="#3a3a3a" stroke-width="0.6"/>
<polygon points="856,482 866,480 867,496 858,497" fill="#d8a6a2"/>
<polygon points="851,478 857,471 861,481 855,489" fill="#34473a"/>
<circle cx="855" cy="473" r="2.5" fill="#2c3a31"/>
<circle cx="862" cy="478.5" r="2.3" fill="#1b201d"/>
<polygon points="870,512 877,500 880,503 872,516" fill="#f0f0f0" stroke="#555" stroke-width="0.5"/>
<path d="M572 452.0V494.0M591 445.7V484.5M602 442.0V479.0M616 437.3V472.0M620 436.0V470.0M627 433.7V466.5M631 432.3V464.5M640 429.3V460.0M653 425.0V453.5M667 420.3V446.5M673 418.3V443.5M677 417.0V441.5M695 411.0V432.5M706 407.3V427.0" stroke="#333" stroke-width="1.1"/>
<path d="M442.8 444L440.7 600M482 450L480.7 593M499.3 451L498 600M526.5 453L526 565M560.7 456L560 600M572 452L572 550M591 446L591 600" stroke="#3a3a3a" stroke-width="1.2"/>
<rect x="479.4" y="590" width="2.6" height="4" fill="#444"/>
<rect x="524.7" y="562" width="2.6" height="4" fill="#444"/>
<rect x="570.7" y="547" width="2.6" height="4" fill="#444"/>
<polygon points="439,432 628,394 707,397.5 560,440" fill="#ebe9e6" stroke="#333" stroke-width="1"/>
<polygon points="439,432 560,440 560,456 440,445" fill="#dad7d2" stroke="#333" stroke-width="1"/>
<polygon points="560,440 707,397.5 707,406 560,456" fill="#ecebe8" stroke="#333" stroke-width="1"/>
<path d="M441 435L560 443L707 401" fill="none" stroke="#555" stroke-width="0.8"/>
<polygon points="574,410 626,399 673,400 627,413" fill="none" stroke="#8a8580" stroke-width="1"/>
<polygon points="582,409 627,401 664,402 628,411" fill="#f4f3f1" stroke="#aaa" stroke-width="0.7"/>
<path d="M601.7 513V535M620 502.6780128794848V540M627.3 498.24563017479306V585M640 490.5344986200552V522M655 481.42686292548296V557M668 473.53357865685376V542M673 470.4977000919963V530M676.7 468.25114995400185V562M695 457.1398344066238V521M706.7 450.0358785648574V511" stroke="#2a2a2a" stroke-width="1.1"/>
<rect x="600.5" y="532" width="2.4" height="3.5" fill="#333"/>
<rect x="618.8" y="537" width="2.4" height="3.5" fill="#333"/>
<rect x="626.0999999999999" y="582" width="2.4" height="3.5" fill="#333"/>
<rect x="638.8" y="519" width="2.4" height="3.5" fill="#333"/>
<rect x="653.8" y="554" width="2.4" height="3.5" fill="#333"/>
<rect x="666.8" y="539" width="2.4" height="3.5" fill="#333"/>
<rect x="671.8" y="527" width="2.4" height="3.5" fill="#333"/>
<rect x="675.5" y="559" width="2.4" height="3.5" fill="#333"/>
<rect x="693.8" y="518" width="2.4" height="3.5" fill="#333"/>
<rect x="705.5" y="508" width="2.4" height="3.5" fill="#333"/>
<polygon points="551.0,478.0 680.0,427.3 806.0,402.0 806.0,402.0 805.0,408.0 800.0,411.0 798.0,417.0 792.5,421.0 791.0,428.0 785.0,434.0 711.7,455.0 607.3,520.0" fill="#f0f0f0"/>
<polygon points="551.0,478.0 680.0,427.3 806.0,402.0 805.0,408.0 681.3,428.4 561.0,481.0" fill="#e3e3e3"/>
<polygon points="561.0,481.0 681.3,428.4 805.0,408.0 800.0,411.0 687.9,434.2 561.0,495.0" fill="#f7f7f7"/>
<polyline points="551.0,478.0 680.0,427.3 806.0,402.0" fill="none" stroke="#4a4a4a" stroke-width="0.9"/>
<polyline points="561.0,481.0 681.3,428.4 805.0,408.0" fill="none" stroke="#9a9a9a" stroke-width="0.7"/>
<polyline points="561.0,495.0 687.9,434.2 800.0,411.0" fill="none" stroke="#777" stroke-width="0.6"/>
<polygon points="549.0,481.0 551.0,478.0 561.0,481.0 561.0,495.0 557.0,495.0 549.0,487.0" fill="#dadada" stroke="#4a4a4a" stroke-width="0.9"/>
<path d="M683.0 431.3L688.9 433.2" stroke="#bbb" stroke-width="0.6"/>
<polygon points="573.0,492.0 691.1,437.0 800.0,411.0 798.0,417.0 692.4,438.1 584.0,494.0" fill="#e3e3e3"/>
<polygon points="584.0,494.0 692.4,438.1 798.0,417.0 792.5,421.0 699.0,443.9 584.0,507.5" fill="#f7f7f7"/>
<polyline points="573.0,492.0 691.1,437.0 800.0,411.0" fill="none" stroke="#4a4a4a" stroke-width="0.9"/>
<polyline points="584.0,494.0 692.4,438.1 798.0,417.0" fill="none" stroke="#9a9a9a" stroke-width="0.7"/>
<polyline points="584.0,507.5 699.0,443.9 792.5,421.0" fill="none" stroke="#777" stroke-width="0.6"/>
<polygon points="571.5,494.0 573.0,492.0 584.0,494.0 584.0,507.5 580.0,507.5 572.0,500.0" fill="#dadada" stroke="#4a4a4a" stroke-width="0.9"/>
<path d="M694.1 441.0L700.0 442.9" stroke="#bbb" stroke-width="0.6"/>
<polygon points="596.0,503.0 702.2,446.7 792.5,421.0 791.0,428.0 703.5,447.8 607.3,505.0" fill="#e3e3e3"/>
<polygon points="607.3,505.0 703.5,447.8 791.0,428.0 785.0,434.0 711.7,455.0 607.3,520.0" fill="#f7f7f7"/>
<polyline points="596.0,503.0 702.2,446.7 792.5,421.0" fill="none" stroke="#4a4a4a" stroke-width="0.9"/>
<polyline points="607.3,505.0 703.5,447.8 791.0,428.0" fill="none" stroke="#9a9a9a" stroke-width="0.7"/>
<polyline points="607.3,520.0 711.7,455.0 785.0,434.0" fill="none" stroke="#3a3a3a" stroke-width="1"/>
<polygon points="594.7,505.0 596.0,503.0 607.3,505.0 607.3,520.0 602.7,520.0 594.7,510.5" fill="#dadada" stroke="#4a4a4a" stroke-width="0.9"/>
<path d="M705.2 450.7L712.7 454.0" stroke="#bbb" stroke-width="0.6"/>
<g transform="translate(635.8,456.7) rotate(-22)"><rect x="-6" y="-3.2" width="12" height="6.4" rx="3" fill="#eee" stroke="#555" stroke-width="0.8"/><path d="M-3 -1H4M-3 1.2H4" stroke="#999" stroke-width="0.6"/></g>
<g transform="translate(654,465) rotate(-22)"><rect x="-6" y="-3.2" width="12" height="6.4" rx="3" fill="#eee" stroke="#555" stroke-width="0.8"/><path d="M-3 -1H4M-3 1.2H4" stroke="#999" stroke-width="0.6"/></g>
<g transform="translate(717.5,427.5) rotate(-22)"><rect x="-6" y="-3.2" width="12" height="6.4" rx="3" fill="#eee" stroke="#555" stroke-width="0.8"/><path d="M-3 -1H4M-3 1.2H4" stroke="#999" stroke-width="0.6"/></g>
<g transform="translate(731,434) rotate(-22)"><rect x="-6" y="-3.2" width="12" height="6.4" rx="3" fill="#eee" stroke="#555" stroke-width="0.8"/><path d="M-3 -1H4M-3 1.2H4" stroke="#999" stroke-width="0.6"/></g>
<g transform="translate(789,411) rotate(-22)"><rect x="-6" y="-3.2" width="12" height="6.4" rx="3" fill="#eee" stroke="#555" stroke-width="0.8"/><path d="M-3 -1H4M-3 1.2H4" stroke="#999" stroke-width="0.6"/></g>
<text x="138.75" y="30.5" textLength="168.8" lengthAdjust="spacingAndGlyphs" class="lb">Ballasted Photovoltaic Array</text>
<circle cx="333" cy="28" r="8.9" fill="none" stroke="#ea4312" stroke-width="1.7"/>
<text x="333" y="32" text-anchor="middle" class="nb">1</text>
<text x="106.25" y="223.75" textLength="201.2" lengthAdjust="spacingAndGlyphs" class="lb">Mass Timber Composite Structure</text>
<circle cx="333" cy="223" r="8.9" fill="none" stroke="#ea4312" stroke-width="1.7"/>
<text x="333" y="227" text-anchor="middle" class="nb">2</text>
<text x="77" y="367.5" textLength="230.5" lengthAdjust="spacingAndGlyphs" class="lb">CLT Core and Perimeter Steel Columns</text>
<circle cx="333" cy="365.75" r="8.9" fill="none" stroke="#ea4312" stroke-width="1.7"/>
<text x="333" y="369.75" text-anchor="middle" class="nb">3</text>
<text x="171.25" y="424.5" textLength="136.2" lengthAdjust="spacingAndGlyphs" class="lb">Polished Concrete Slab</text>
<circle cx="333" cy="423.75" r="8.9" fill="none" stroke="#ea4312" stroke-width="1.7"/>
<text x="333" y="427.75" text-anchor="middle" class="nb">4</text>
<text x="127" y="487.5" textLength="180.5" lengthAdjust="spacingAndGlyphs" class="lb">Screw Piles Extend to Bedrock</text>
<circle cx="333" cy="482" r="8.9" fill="none" stroke="#ea4312" stroke-width="1.7"/>
<text x="333" y="486" text-anchor="middle" class="nb">5</text>
<path d="M341.6 28H450" fill="none" stroke="#ea4312" stroke-width="1.6"/>
<circle cx="450" cy="28" r="2.3" fill="#ea4312"/>
<path d="M341.6 223H361M380 130.5H361V317.5H380" fill="none" stroke="#ea4312" stroke-width="1.6"/>
<circle cx="380" cy="130.5" r="2.3" fill="#ea4312"/>
<circle cx="380" cy="317.5" r="2.3" fill="#ea4312"/>
<path d="M341.6 365.75H412.5M431 346H412.5V385H431" fill="none" stroke="#ea4312" stroke-width="1.6"/>
<circle cx="431" cy="346" r="2.3" fill="#ea4312"/>
<circle cx="431" cy="385" r="2.3" fill="#ea4312"/>
<path d="M341.6 424H436" fill="none" stroke="#ea4312" stroke-width="1.6"/>
<circle cx="436" cy="424" r="2.3" fill="#ea4312"/>
<path d="M341.6 482H436" fill="none" stroke="#ea4312" stroke-width="1.6"/>
<circle cx="436" cy="482" r="2.3" fill="#ea4312"/>
</svg></body></html>
